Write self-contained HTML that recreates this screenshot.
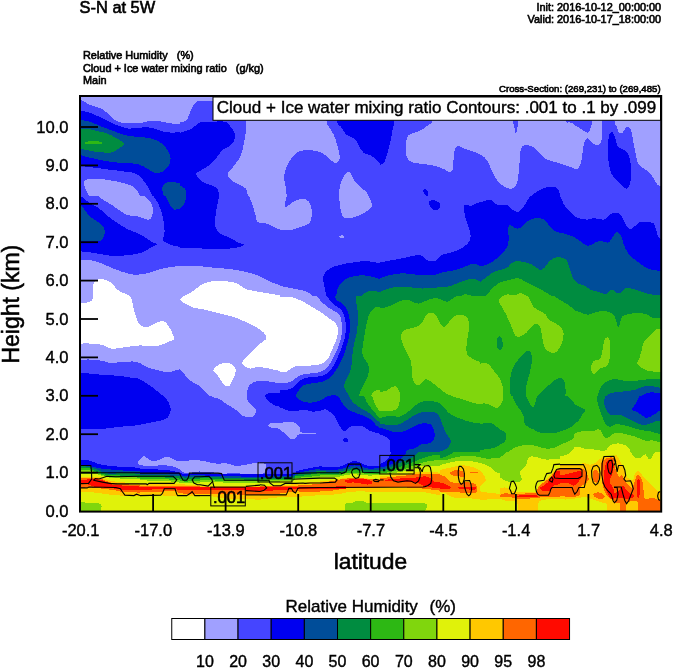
<!DOCTYPE html>
<html><head><meta charset="utf-8"><title>S-N at 5W</title>
<style>
html,body{margin:0;padding:0;background:#fff;}
body{width:674px;height:668px;overflow:hidden;}
svg{display:block;}
text{font-family:"Liberation Sans",sans-serif;fill:#000;stroke:#000;stroke-width:0.4px;white-space:pre;}
.sm text{stroke-width:0.6px;}
</style></head><body>
<svg width="674" height="668" viewBox="0 0 674 668">
<rect x="0" y="0" width="674" height="668" fill="#fff"/>
<text x="79.6" y="12.5" font-size="16.4" style="stroke-width:0.6px">S-N at 5W</text>
<g class="sm">
<text x="661.2" y="11" font-size="10.9" text-anchor="end">Init: 2016-10-12_00:00:00</text>
<text x="661.2" y="22.8" font-size="10.9" text-anchor="end">Valid: 2016-10-17_18:00:00</text>
<text x="83" y="59.4" font-size="10.9" xml:space="preserve">Relative Humidity   (%)</text>
<text x="83" y="71.6" font-size="10.9" xml:space="preserve">Cloud + Ice water mixing ratio   (g/kg)</text>
<text x="83" y="83.6" font-size="10.9">Main</text>
<text x="660.6" y="91.6" font-size="9.65" text-anchor="end">Cross-Section: (269,231) to (269,485)</text>
</g>
<g id="field" shape-rendering="crispEdges">
<rect x="80" y="96" width="581" height="416" fill="#4545ff"/>
<defs><clipPath id="c0"><rect x="80" y="96" width="100" height="100"/></clipPath><clipPath id="c1"><rect x="180" y="96" width="100" height="100"/></clipPath><clipPath id="c2"><rect x="280" y="96" width="100" height="100"/></clipPath><clipPath id="c3"><rect x="380" y="96" width="100" height="100"/></clipPath><clipPath id="c4"><rect x="480" y="96" width="100" height="100"/></clipPath><clipPath id="c5"><rect x="574" y="96" width="87" height="100"/></clipPath><clipPath id="c6"><rect x="80" y="196" width="100" height="100"/></clipPath><clipPath id="c7"><rect x="180" y="196" width="100" height="100"/></clipPath><clipPath id="c8"><rect x="280" y="196" width="100" height="100"/></clipPath><clipPath id="c9"><rect x="380" y="196" width="100" height="100"/></clipPath><clipPath id="c10"><rect x="480" y="196" width="100" height="100"/></clipPath><clipPath id="c11"><rect x="574" y="196" width="87" height="100"/></clipPath><clipPath id="c12"><rect x="80" y="296" width="100" height="100"/></clipPath><clipPath id="c13"><rect x="180" y="296" width="100" height="100"/></clipPath><clipPath id="c14"><rect x="280" y="296" width="100" height="100"/></clipPath><clipPath id="c15"><rect x="380" y="296" width="100" height="100"/></clipPath><clipPath id="c16"><rect x="480" y="296" width="100" height="100"/></clipPath><clipPath id="c17"><rect x="574" y="296" width="87" height="100"/></clipPath><clipPath id="c18"><rect x="80" y="396" width="100" height="60"/></clipPath><clipPath id="c19"><rect x="180" y="396" width="100" height="60"/></clipPath><clipPath id="c20"><rect x="280" y="396" width="100" height="60"/></clipPath><clipPath id="c21"><rect x="380" y="396" width="100" height="60"/></clipPath><clipPath id="c22"><rect x="480" y="396" width="100" height="60"/></clipPath><clipPath id="c23"><rect x="574" y="396" width="87" height="60"/></clipPath><clipPath id="c24"><rect x="80" y="452" width="60" height="60"/></clipPath><clipPath id="c25"><rect x="140" y="452" width="60" height="60"/></clipPath><clipPath id="c26"><rect x="200" y="452" width="60" height="60"/></clipPath><clipPath id="c27"><rect x="260" y="452" width="60" height="60"/></clipPath><clipPath id="c28"><rect x="320" y="452" width="60" height="60"/></clipPath><clipPath id="c29"><rect x="380" y="452" width="60" height="60"/></clipPath><clipPath id="c30"><rect x="440" y="452" width="60" height="60"/></clipPath><clipPath id="c31"><rect x="500" y="452" width="60" height="60"/></clipPath><clipPath id="c32"><rect x="560" y="452" width="60" height="60"/></clipPath><clipPath id="c33"><rect x="614" y="452" width="47" height="60"/></clipPath></defs>
<g clip-path="url(#c0)">
<rect x="80" y="96" width="100" height="100" fill="#a0a0ff"/>
<path fill="#4545ff" d="M80.0,99.7C81.0,100.2 84.0,101.7 86.0,102.7C88.0,103.7 89.7,104.9 92.0,105.7C94.2,106.6 97.3,107.1 99.5,108.0C101.6,108.8 103.0,109.7 104.7,111.0C106.4,112.2 108.3,114.0 109.9,115.5C111.6,116.9 112.9,118.6 114.4,119.7C115.9,120.7 117.2,121.1 118.9,121.7C120.7,122.3 121.4,123.0 124.9,123.2C128.4,123.4 136.4,123.2 139.9,122.9C143.4,122.7 143.4,122.1 145.9,121.7C148.4,121.4 152.4,120.8 154.9,120.7C157.3,120.7 158.3,121.0 160.8,121.4C163.3,121.9 166.6,122.8 169.8,123.2C173.0,123.7 178.3,124.0 180.0,124.1L180.0,196.0L80.0,196.0L80.0,99.7Z"/>
<path fill="#0000f0" d="M80.0,110.2C81.5,110.6 86.0,111.5 89.0,112.5C92.0,113.5 95.0,114.8 98.0,116.2C101.0,117.6 104.0,119.3 106.9,120.7C109.9,122.1 112.9,123.6 115.9,124.7C118.9,125.9 122.7,127.1 124.9,127.7C127.2,128.4 126.9,128.6 129.4,128.6C131.9,128.6 136.9,128.0 139.9,127.7C142.9,127.5 144.9,126.9 147.4,127.1C149.9,127.3 152.1,128.2 154.9,128.9C157.6,129.7 160.8,131.0 163.8,131.6C166.8,132.3 170.1,132.6 172.8,132.7C175.5,132.7 178.8,132.1 180.0,131.9L180.0,196.0L152.6,196.0C152.2,195.3 151.2,193.5 150.4,191.8C149.5,190.1 148.6,187.8 147.4,185.8C146.1,183.8 144.4,181.6 142.9,179.8C141.4,178.1 140.1,176.5 138.4,175.3C136.6,174.1 134.6,173.3 132.4,172.6C130.1,172.0 128.7,172.1 124.9,171.6C121.2,171.1 114.4,170.2 109.9,169.7C105.4,169.1 101.5,168.6 98.0,168.2C94.5,167.7 92.0,167.5 89.0,167.1C86.0,166.7 81.5,165.9 80.0,165.6L80.0,110.2Z"/>
<path fill="#004d99" d="M80.0,120.0C81.2,120.2 85.0,120.5 87.5,121.1C90.0,121.8 93.0,122.9 95.0,123.7C97.0,124.5 97.0,124.9 99.5,125.9C102.0,126.9 106.2,128.3 109.9,129.7C113.7,131.1 118.2,133.1 121.9,134.2C125.7,135.3 128.9,135.9 132.4,136.4C135.9,136.9 139.6,136.8 142.9,137.2C146.1,137.5 149.1,137.9 151.9,138.7C154.6,139.4 157.3,140.5 159.3,141.7C161.3,142.8 162.3,143.8 163.8,145.4C165.3,147.0 167.2,149.3 168.3,151.4C169.4,153.5 170.4,155.9 170.6,158.1C170.7,160.4 170.2,162.7 169.1,164.9C167.9,167.0 165.7,169.5 163.8,170.9C162.0,172.2 159.6,172.8 157.8,173.1C156.1,173.3 155.1,173.1 153.4,172.3C151.6,171.6 149.6,169.9 147.4,168.6C145.1,167.4 142.4,165.7 139.9,164.9C137.4,164.0 136.1,163.7 132.4,163.4C128.7,163.0 122.4,163.1 117.4,162.6C112.4,162.1 107.2,161.2 102.5,160.4C97.7,159.5 92.7,158.3 89.0,157.4C85.2,156.5 81.5,155.5 80.0,155.1L80.0,120.0Z"/>
<path fill="#008c40" d="M80.0,128.6C81.5,128.7 86.0,128.8 89.0,129.2C92.0,129.7 95.0,130.5 98.0,131.2C101.0,131.9 104.0,132.3 106.9,133.4C109.9,134.5 113.1,136.2 115.9,137.9C118.7,139.6 123.4,141.7 123.9,143.5C124.4,145.2 120.5,147.1 118.9,148.4C117.4,149.7 115.9,150.7 114.4,151.4C112.9,152.1 112.7,152.5 109.9,152.6C107.2,152.7 101.5,152.5 98.0,152.1C94.5,151.8 92.0,151.2 89.0,150.6C86.0,150.1 81.5,149.0 80.0,148.7L80.0,128.6Z"/>
<path fill="#2db814" d="M85.2,142.4C85.7,142.0 87.4,141.5 89.0,141.2C90.6,141.0 92.8,140.8 95.0,140.9C97.1,141.1 100.5,141.7 101.7,142.1C102.9,142.6 103.3,143.3 102.2,143.6C101.0,143.9 97.7,143.9 95.0,143.9C92.3,144.0 87.6,144.2 86.0,143.9C84.4,143.7 84.7,142.9 85.2,142.4Z"/>
<path fill="#a0a0ff" d="M139.9,196.0L89.0,196.0C88.6,195.3 87.5,193.5 86.7,191.8C86.0,190.1 84.9,187.4 84.5,185.8C84.1,184.2 83.9,183.1 84.2,182.1C84.4,181.1 84.7,180.4 86.0,179.8C87.3,179.3 89.2,178.8 92.0,178.6C94.7,178.5 98.2,178.6 102.5,179.1C106.7,179.6 113.2,180.8 117.4,181.6C121.7,182.5 125.2,183.4 127.9,184.3C130.6,185.3 132.3,186.2 133.9,187.3C135.5,188.4 136.6,189.6 137.6,191.1C138.6,192.5 139.5,195.2 139.9,196.0Z"/>
<path fill="#004d99" d="M180.0,183.6L180.0,196.0L163.8,196.0C163.6,194.8 162.3,190.8 162.3,188.8C162.3,186.9 162.8,185.4 163.8,184.3C164.8,183.2 166.3,182.4 168.3,182.1C170.3,181.8 173.9,182.3 175.8,182.5C177.8,182.8 179.3,183.4 180.0,183.6Z"/>
</g>
<g clip-path="url(#c1)">
<rect x="180" y="96" width="100" height="100" fill="#a0a0ff"/>
<path fill="#4545ff" d="M180.0,122.2C181.0,121.9 184.6,121.6 186.0,120.7C187.4,119.8 187.5,118.6 188.2,117.0C189.0,115.3 189.6,113.0 190.5,111.0C191.4,109.0 192.5,106.5 193.5,105.0C194.5,103.5 195.5,102.7 196.5,102.0C197.5,101.3 196.7,101.1 199.5,100.9C202.3,100.8 205.5,100.9 213.2,100.9C221.0,100.9 240.4,97.6 245.9,100.9C251.3,104.2 245.9,115.3 245.9,120.7C245.8,126.1 245.8,130.1 245.6,133.4C245.3,136.8 244.8,138.4 244.4,140.9C243.9,143.4 243.5,145.9 242.9,148.4C242.3,150.9 241.6,153.6 240.6,155.9C239.6,158.1 238.3,159.9 236.9,161.9C235.5,163.9 233.9,165.9 232.4,167.9C230.8,169.9 228.1,172.1 227.6,173.8C227.1,175.6 228.1,176.8 229.4,178.3C230.7,179.8 233.4,181.6 235.4,182.8C237.4,184.1 239.6,184.8 241.4,185.8C243.1,186.8 244.7,187.1 245.9,188.8C247.0,190.5 247.7,194.8 248.1,196.0L180.0,196.0L180.0,122.2Z"/>
<path fill="#0000f0" d="M180.0,132.7C181.2,132.3 185.2,131.3 187.5,130.4C189.7,129.6 191.5,128.7 193.5,127.4C195.5,126.1 196.7,123.6 199.5,122.6C202.2,121.7 205.7,121.9 209.9,121.7C214.2,121.6 221.7,121.2 224.9,121.7C228.2,122.3 228.0,123.7 229.4,125.2C230.8,126.6 232.2,128.6 233.1,130.4C234.1,132.3 235.1,134.4 235.1,136.4C235.1,138.4 234.1,140.8 233.1,142.4C232.2,144.0 231.0,145.0 229.4,146.1C227.8,147.3 225.2,147.8 223.4,149.1C221.7,150.5 220.4,152.5 218.9,154.4C217.4,156.3 215.9,158.6 214.4,160.4C212.9,162.1 211.9,163.4 209.9,164.9C207.9,166.4 204.8,167.9 202.5,169.4C200.2,170.9 196.8,172.3 196.2,173.8C195.5,175.3 197.4,176.8 198.7,178.3C200.0,179.8 201.6,181.6 204.0,182.8C206.3,184.1 210.7,184.8 212.9,185.8C215.2,186.8 216.4,187.1 217.4,188.8C218.5,190.5 218.9,194.8 219.2,196.0L180.0,196.0L180.0,132.7Z"/>
<path fill="#004d99" d="M180.0,185.8C180.7,186.2 183.5,187.1 184.5,188.1C185.5,189.1 185.8,190.5 186.0,191.8C186.2,193.1 185.7,195.3 185.7,196.0L180.0,196.0L180.0,185.8Z"/>
</g>
<g clip-path="url(#c2)">
<rect x="280" y="96" width="100" height="100" fill="#4545ff"/>
<path fill="#a0a0ff" d="M280.0,96.0L326.4,96.0C326.4,100.1 325.9,115.5 326.4,120.7C326.9,125.9 328.2,125.1 329.4,127.4C330.6,129.8 332.6,132.2 333.9,134.9C335.1,137.7 336.0,140.9 336.9,143.9C337.8,146.9 338.7,150.4 339.1,152.9C339.6,155.4 340.0,157.3 339.6,158.9C339.2,160.5 338.0,162.1 336.9,162.6C335.8,163.1 334.6,162.7 333.1,161.9C331.6,161.0 329.8,158.9 327.9,157.4C326.0,155.9 324.7,154.1 321.9,152.9C319.2,151.7 315.2,150.5 311.4,150.2C307.7,149.9 302.3,150.3 299.5,151.1C296.6,151.9 296.0,153.3 294.2,155.1C292.5,156.9 290.5,159.2 289.0,161.9C287.5,164.5 286.0,168.1 285.2,170.9C284.4,173.6 284.1,175.3 284.2,178.3C284.3,181.3 285.6,185.9 286.0,188.8C286.4,191.8 286.6,194.8 286.7,196.0L280.0,196.0L280.0,96.0Z"/>
<path fill="#a0a0ff" d="M339.1,196.0C339.3,194.3 339.3,188.8 339.9,185.8C340.5,182.9 341.9,180.5 342.9,178.3C343.9,176.2 344.9,174.1 345.9,173.1C346.9,172.0 347.9,171.7 348.9,172.0C349.9,172.4 350.9,173.8 351.9,175.3C352.9,176.9 353.4,179.3 354.9,181.3C356.3,183.3 359.0,185.6 360.8,187.3C362.7,189.1 364.8,190.4 366.1,191.8C367.3,193.3 367.9,195.3 368.3,196.0L339.1,196.0Z"/>
<path fill="#0000f0" d="M336.9,96.0L380.0,96.0L380.0,163.4C379.3,162.6 377.5,160.2 375.8,158.9C374.1,157.5 371.8,156.1 369.8,155.1C367.8,154.1 365.6,154.3 363.8,152.9C362.1,151.5 360.6,148.9 359.3,146.9C358.1,144.9 357.6,142.5 356.3,140.9C355.1,139.3 353.6,138.3 351.9,137.2C350.1,136.0 347.6,135.8 345.9,134.2C344.1,132.6 342.9,129.7 341.4,127.4C339.9,125.2 337.6,125.9 336.9,120.7C336.1,115.5 336.9,100.1 336.9,96.0Z"/>
</g>
<g clip-path="url(#c3)">
<rect x="380" y="96" width="100" height="100" fill="#4545ff"/>
<path fill="#0000f0" d="M380.0,96.0L394.2,96.0C394.2,100.1 394.5,115.2 394.2,120.7C394.0,126.2 393.3,125.6 392.7,128.9C392.1,132.3 391.4,136.9 390.5,140.9C389.6,144.9 388.5,149.4 387.5,152.9C386.5,156.4 385.7,159.8 384.5,161.9C383.2,163.9 380.7,164.6 380.0,165.2L380.0,96.0Z"/>
<path fill="#a0a0ff" d="M432.4,96.0L480.0,96.0L480.0,154.4C478.8,153.9 475.3,152.3 472.8,151.4C470.4,150.5 467.6,150.0 465.3,149.1C463.1,148.3 461.0,146.4 459.3,146.1C457.7,145.9 456.5,146.5 455.6,147.6C454.7,148.8 454.5,150.5 454.1,152.9C453.7,155.3 453.6,159.1 453.4,161.9C453.1,164.6 453.2,167.6 452.6,169.4C452.0,171.1 451.0,172.3 449.6,172.3C448.2,172.3 446.7,170.4 444.4,169.4C442.0,168.3 438.6,166.9 435.4,166.1C432.1,165.2 428.7,164.7 424.9,164.1C421.2,163.5 415.8,163.5 412.9,162.6C410.1,161.7 408.9,160.7 407.7,158.9C406.5,157.0 406.0,154.4 405.7,151.4C405.5,148.4 405.7,143.6 406.2,140.9C406.6,138.2 407.1,136.6 408.4,135.2C409.8,133.8 412.2,133.6 414.4,132.7C416.7,131.8 419.7,130.9 421.9,129.7C424.2,128.4 426.2,126.7 427.9,125.2C429.7,123.7 431.6,125.6 432.4,120.7C433.1,115.8 432.4,100.1 432.4,96.0Z"/>
<path fill="#0000f0" d="M427.6,196.0C427.2,195.8 425.7,195.8 424.9,194.8C424.2,193.9 423.0,191.3 423.1,190.3C423.2,189.3 424.9,188.6 425.7,188.8C426.5,189.1 427.6,190.6 427.9,191.8C428.2,193.0 427.7,195.3 427.6,196.0Z"/>
</g>
<g clip-path="url(#c4)">
<rect x="480" y="96" width="100" height="100" fill="#a0a0ff"/>
<path fill="#4545ff" d="M480.0,154.7C480.7,155.1 483.1,156.1 484.5,157.4C485.9,158.7 487.1,160.6 488.2,162.6C489.4,164.6 490.1,167.0 491.2,169.4C492.4,171.7 493.6,174.6 495.0,176.8C496.3,179.1 497.7,181.1 499.5,182.8C501.2,184.6 503.5,186.3 505.4,187.3C507.4,188.3 509.7,189.1 511.4,188.8C513.2,188.6 514.9,187.3 515.9,185.8C517.0,184.3 517.2,182.3 517.7,179.8C518.2,177.3 518.6,174.1 518.9,170.9C519.2,167.6 519.4,163.6 519.7,160.4C519.9,157.1 519.9,153.8 520.4,151.4C520.9,149.0 521.4,147.2 522.7,146.1C523.9,145.1 526.0,144.9 527.9,145.1C529.8,145.4 531.9,146.3 533.9,147.6C535.9,148.9 537.9,151.0 539.9,152.9C541.9,154.8 543.4,157.4 545.9,158.9C548.4,160.4 551.9,160.9 554.9,161.9C557.8,162.9 560.8,163.9 563.8,164.9C566.8,165.9 570.1,167.1 572.8,167.9C575.5,168.6 578.8,169.1 580.0,169.4L580.0,196.0L480.0,196.0L480.0,154.7Z"/>
<path fill="#4545ff" d="M513.2,96.0L518.2,96.0C518.2,100.1 518.3,115.2 518.2,120.7C518.0,126.2 517.5,126.8 517.1,128.9C516.8,131.1 516.3,133.7 515.9,133.7C515.5,133.7 515.2,131.1 514.7,128.9C514.3,126.8 513.5,126.2 513.2,120.7C513.0,115.2 513.2,100.1 513.2,96.0Z"/>
<path fill="#4545ff" d="M566.1,96.0L580.0,96.0L580.0,128.2C579.3,127.7 577.5,126.2 575.8,125.2C574.1,124.2 571.4,122.9 569.8,122.2C568.2,121.4 566.7,125.1 566.1,120.7C565.5,116.3 566.1,100.1 566.1,96.0Z"/>
<path fill="#0000f0" d="M530.9,196.0C531.9,195.3 534.6,193.1 536.9,191.8C539.1,190.5 541.9,188.9 544.4,188.1C546.9,187.2 549.7,186.6 551.9,186.6C554.0,186.6 555.8,187.2 557.1,188.1C558.3,188.9 558.8,190.5 559.3,191.8C559.8,193.1 560.0,195.3 560.1,196.0L530.9,196.0Z"/>
</g>
<g clip-path="url(#c5)">
<rect x="574" y="96" width="87" height="100" fill="#4545ff"/>
<path fill="#a0a0ff" d="M592.0,96.0L602.4,96.0C602.4,100.1 602.5,114.5 602.4,120.7C602.4,126.9 602.4,129.8 602.1,133.4C601.9,137.0 601.9,140.5 600.9,142.4C600.0,144.4 598.0,145.1 596.5,145.1C595.0,145.1 593.3,143.6 592.0,142.4C590.6,141.3 589.3,138.6 588.2,138.2C587.1,137.8 586.1,138.7 585.2,140.2C584.4,141.6 583.8,144.3 583.3,146.9C582.8,149.5 582.7,153.1 582.2,155.9C581.8,158.6 581.5,161.2 580.7,163.4C580.0,165.5 578.9,167.7 577.7,168.6C576.6,169.6 574.6,169.0 574.0,169.1L574.0,125.2C575.0,125.7 577.7,126.9 580.0,128.2C582.2,129.4 585.7,132.7 587.5,132.7C589.2,132.7 589.7,130.2 590.5,128.2C591.2,126.2 591.7,126.1 592.0,120.7C592.2,115.3 592.0,100.1 592.0,96.0Z"/>
<path fill="#a0a0ff" d="M614.4,96.0L674.0,96.0L674.0,185.8C671.7,185.8 663.1,186.4 660.1,185.8C657.0,185.2 657.0,183.8 655.6,182.1C654.2,180.3 653.2,177.2 651.8,175.3C650.5,173.5 649.1,172.2 647.4,170.9C645.6,169.5 643.0,168.6 641.4,167.1C639.7,165.6 638.6,164.2 637.6,161.9C636.6,159.5 636.1,156.4 635.4,152.9C634.6,149.4 633.9,144.8 633.1,140.9C632.4,137.0 632.0,131.9 630.9,129.7C629.8,127.4 627.9,126.8 626.4,127.4C624.9,128.1 623.3,132.8 621.9,133.4C620.5,134.0 619.0,132.4 618.2,131.2C617.3,129.9 617.3,127.7 616.7,125.9C616.0,124.2 614.8,125.7 614.4,120.7C614.0,115.7 614.4,100.1 614.4,96.0Z"/>
<path fill="#0000f0" d="M609.9,133.4C610.6,132.6 612.0,131.9 612.9,132.7C613.8,133.4 614.4,135.8 615.2,137.9C615.9,140.0 616.3,143.5 617.4,145.4C618.5,147.3 620.4,148.1 621.9,149.1C623.4,150.1 625.1,150.0 626.4,151.4C627.6,152.8 628.6,154.9 629.4,157.4C630.1,159.9 630.6,163.4 630.9,166.4C631.2,169.4 631.4,172.1 631.2,175.3C630.9,178.6 630.2,183.6 629.4,185.8C628.6,188.1 627.6,188.8 626.4,188.8C625.1,188.8 623.5,187.3 621.9,185.8C620.3,184.3 618.4,181.8 616.7,179.8C614.9,177.8 612.7,176.3 611.4,173.8C610.2,171.3 609.7,167.9 609.2,164.9C608.6,161.9 608.3,159.1 608.1,155.9C608.0,152.6 608.0,148.4 608.1,145.4C608.2,142.4 608.4,139.9 608.7,137.9C609.0,135.9 609.2,134.3 609.9,133.4Z"/>
</g>
<g clip-path="url(#c6)">
<rect x="80" y="196" width="100" height="100" fill="#4545ff"/>
<path fill="#a0a0ff" d="M98.0,196.0L144.4,196.0C145.4,197.0 148.9,199.7 150.4,202.0C151.8,204.2 152.8,207.1 153.1,209.5C153.3,211.8 152.6,214.5 151.9,216.2C151.2,218.0 150.1,219.6 148.9,220.0C147.6,220.3 146.4,219.1 144.4,218.5C142.4,217.8 139.6,216.8 136.9,216.2C134.1,215.7 130.6,216.0 127.9,215.2C125.2,214.3 122.9,212.5 120.4,211.0C117.9,209.4 115.4,207.4 112.9,205.7C110.4,204.1 107.9,202.9 105.4,201.2C103.0,199.6 99.2,196.9 98.0,196.0Z"/>
<path fill="#0000f0" d="M80.0,196.0C80.5,196.2 81.5,196.4 83.0,197.5C84.5,198.6 86.5,201.0 89.0,202.7C91.5,204.4 95.2,205.8 98.0,207.7C100.7,209.5 103.0,211.9 105.4,214.0C107.9,216.0 110.2,218.0 112.9,220.0C115.7,221.9 118.9,224.1 121.9,225.9C124.9,227.7 127.9,229.4 130.9,230.7C133.9,232.1 137.4,233.0 139.9,234.2C142.4,235.4 143.9,236.6 145.9,237.9C147.9,239.2 150.0,241.1 151.9,242.1C153.7,243.2 157.3,243.3 157.1,244.2C156.8,245.1 152.7,246.3 150.4,247.6C148.0,249.0 145.9,251.0 142.9,252.1C139.9,253.3 136.6,254.1 132.4,254.7C128.2,255.3 121.2,255.7 117.4,255.9C113.7,256.0 113.2,256.0 109.9,255.6C106.7,255.2 101.5,254.2 98.0,253.6C94.5,253.1 92.0,252.5 89.0,252.1C86.0,251.8 81.5,251.5 80.0,251.4L80.0,196.0Z"/>
<path fill="#004d99" d="M80.0,205.0C80.7,205.7 83.0,207.7 84.5,209.5C86.0,211.2 87.5,213.8 89.0,215.5C90.5,217.1 91.7,218.0 93.5,219.2C95.2,220.5 97.7,221.4 99.5,222.9C101.2,224.4 103.1,226.4 104.0,228.2C104.8,229.9 105.0,231.6 104.7,233.4C104.5,235.3 103.6,238.2 102.5,239.4C101.3,240.7 101.7,240.6 98.0,240.9C94.2,241.2 83.0,241.2 80.0,241.2L80.0,205.0Z"/>
<path fill="#0000f0" d="M153.4,196.0L180.0,196.0L180.0,246.9C178.8,246.6 175.3,246.1 172.8,245.4C170.4,244.7 167.0,243.4 165.3,242.4C163.7,241.4 163.2,241.2 163.1,239.4C163.0,237.7 164.5,234.7 164.6,231.9C164.7,229.2 164.3,226.2 163.8,222.9C163.3,219.7 162.6,215.8 161.6,212.5C160.6,209.1 159.2,205.5 157.8,202.7C156.5,200.0 154.1,197.1 153.4,196.0Z"/>
<path fill="#004d99" d="M166.1,196.0L180.0,196.0L180.0,208.7C179.1,208.8 175.9,210.0 174.3,209.5C172.7,209.0 171.7,207.2 170.6,205.7C169.4,204.2 168.3,202.1 167.6,200.5C166.8,198.9 166.3,196.7 166.1,196.0Z"/>
<path fill="#a0a0ff" d="M80.0,260.7C81.0,260.5 84.0,259.7 86.0,259.6C88.0,259.6 89.7,259.9 92.0,260.4C94.2,260.9 96.7,261.6 99.5,262.6C102.2,263.6 105.4,265.1 108.4,266.4C111.4,267.6 114.4,269.0 117.4,270.1C120.4,271.2 123.7,272.3 126.4,273.1C129.2,273.8 131.1,274.4 133.9,274.6C136.6,274.8 140.1,274.5 142.9,274.1C145.6,273.8 147.6,273.1 150.4,272.3C153.1,271.5 156.1,270.2 159.3,269.4C162.6,268.5 166.4,267.7 169.8,267.1C173.3,266.6 178.3,266.2 180.0,266.1L180.0,296.0L80.0,296.0L80.0,260.7Z"/>
<path fill="#ffffff" d="M93.2,296.0C93.2,294.3 92.9,288.3 93.2,285.8C93.5,283.4 93.9,282.5 95.0,281.3C96.0,280.2 97.7,279.3 99.5,279.1C101.2,278.8 103.5,279.2 105.4,279.8C107.4,280.5 109.7,281.5 111.4,282.8C113.2,284.2 114.4,286.6 115.9,288.1C117.4,289.6 118.7,290.8 120.4,291.8C122.2,292.8 124.9,293.4 126.4,294.1C127.9,294.8 128.9,295.7 129.4,296.0L93.2,296.0Z"/>
</g>
<g clip-path="url(#c7)">
<rect x="180" y="196" width="100" height="100" fill="#4545ff"/>
<path fill="#0000f0" d="M180.0,196.0L219.2,196.0C218.9,197.5 218.0,202.2 217.4,205.0C216.9,207.7 216.3,210.0 215.9,212.5C215.6,215.0 215.2,217.5 215.2,220.0C215.1,222.4 215.0,225.3 215.6,227.4C216.3,229.6 217.4,231.3 218.9,232.7C220.5,234.0 222.7,234.5 224.9,235.7C227.2,236.8 229.9,238.2 232.4,239.4C234.9,240.7 237.9,242.3 239.9,243.2C241.8,244.0 244.1,244.0 244.1,244.7C244.1,245.3 242.6,246.2 239.9,246.9C237.2,247.6 232.9,248.4 227.9,248.7C222.9,249.0 215.4,248.7 209.9,248.7C204.5,248.6 199.2,248.4 195.0,248.4C190.7,248.3 187.0,248.5 184.5,248.4C182.0,248.3 180.7,247.8 180.0,247.6L180.0,196.0Z"/>
<path fill="#004d99" d="M180.0,196.0L186.0,196.0C185.9,197.0 185.9,200.2 185.2,202.0C184.6,203.7 183.1,205.5 182.2,206.5C181.4,207.5 180.4,207.7 180.0,208.0L180.0,196.0Z"/>
<path fill="#a0a0ff" d="M248.9,196.0L280.0,196.0L280.0,229.7C279.1,229.3 276.5,228.4 274.3,227.4C272.1,226.4 269.6,224.6 266.8,223.7C264.1,222.8 259.7,223.6 257.8,222.2C256.0,220.8 256.3,217.8 255.6,215.5C254.9,213.1 254.1,210.3 253.4,208.0C252.6,205.6 251.9,203.2 251.1,201.2C250.4,199.2 249.2,196.9 248.9,196.0Z"/>
<path fill="#a0a0ff" d="M180.0,266.1C181.5,266.0 185.7,265.6 189.0,265.6C192.2,265.6 195.5,265.7 199.5,266.1C203.5,266.4 208.7,267.1 212.9,267.6C217.2,268.0 220.9,268.2 224.9,268.6C228.9,269.0 233.1,269.5 236.9,270.1C240.6,270.7 243.9,271.5 247.4,272.3C250.9,273.2 254.9,274.2 257.8,275.3C260.8,276.5 262.8,277.8 265.3,279.1C267.8,280.3 270.4,281.8 272.8,282.8C275.3,283.8 278.8,284.7 280.0,285.1L280.0,296.0L180.0,296.0L180.0,266.1Z"/>
<path fill="#ffffff" d="M184.5,296.0C185.7,295.3 189.7,293.3 192.0,291.8C194.2,290.4 196.2,288.6 198.0,287.3C199.7,286.1 200.7,285.2 202.5,284.3C204.2,283.5 206.2,282.6 208.4,282.1C210.7,281.5 213.2,281.2 215.9,281.0C218.7,280.9 222.2,281.2 224.9,281.3C227.7,281.5 230.1,281.6 232.4,282.1C234.6,282.6 236.6,283.5 238.4,284.3C240.1,285.2 241.4,286.4 242.9,287.3C244.4,288.2 245.4,288.9 247.4,289.6C249.4,290.2 252.1,290.6 254.9,291.1C257.6,291.6 260.8,292.1 263.8,292.6C266.8,293.1 270.1,293.6 272.8,294.1C275.5,294.6 278.8,295.3 280.0,295.6L280.0,296.0L184.5,296.0Z"/>
</g>
<g clip-path="url(#c8)">
<rect x="280" y="196" width="100" height="100" fill="#4545ff"/>
<path fill="#a0a0ff" d="M280.0,196.0L286.7,196.0C286.4,197.6 284.5,203.9 284.5,205.7C284.5,207.5 285.5,207.3 286.7,206.8C288.0,206.3 290.1,203.9 292.0,202.7C293.8,201.6 296.0,200.4 298.0,199.7C300.0,199.1 302.2,198.7 304.0,199.0C305.7,199.2 307.2,200.0 308.4,201.2C309.6,202.5 310.6,204.4 311.1,206.5C311.7,208.6 311.8,211.6 311.7,214.0C311.7,216.3 311.4,219.0 310.7,220.7C310.0,222.4 309.3,223.4 307.7,224.4C306.1,225.4 303.6,225.8 301.0,226.7C298.3,227.6 294.7,229.1 292.0,229.7C289.2,230.3 286.5,230.1 284.5,230.1C282.5,230.1 280.7,229.8 280.0,229.7L280.0,196.0Z"/>
<path fill="#a0a0ff" d="M339.1,196.0L368.3,196.0C368.8,197.0 370.7,200.2 371.3,202.0C371.9,203.7 372.6,205.1 372.1,206.5C371.6,207.9 370.2,208.8 368.3,210.2C366.5,211.6 363.6,213.5 360.8,214.7C358.1,216.0 354.6,217.2 351.9,217.7C349.1,218.2 346.1,218.6 344.4,217.7C342.6,216.8 342.1,214.6 341.4,212.5C340.6,210.3 340.3,207.7 339.9,205.0C339.5,202.2 339.3,197.5 339.1,196.0Z"/>
<path fill="#a0a0ff" d="M339.9,235.7C340.6,235.3 343.4,235.3 344.1,235.7C344.8,236.0 344.8,237.5 344.1,237.9C343.4,238.3 340.6,238.3 339.9,237.9C339.2,237.5 339.2,236.0 339.9,235.7Z"/>
<path fill="#0000f0" d="M326.4,296.0C326.0,294.3 324.7,288.8 324.2,285.8C323.6,282.9 323.0,280.5 323.1,278.3C323.2,276.2 323.6,274.8 324.9,273.1C326.2,271.3 328.4,269.2 330.9,267.9C333.4,266.5 336.4,265.7 339.9,264.9C343.4,264.0 347.9,263.2 351.9,262.6C355.8,262.0 360.3,261.2 363.8,261.1C367.3,261.0 370.1,261.5 372.8,261.9C375.5,262.2 378.8,263.1 380.0,263.4L380.0,296.0L326.4,296.0Z"/>
<path fill="#004d99" d="M336.1,296.0C336.4,294.8 336.8,291.0 337.6,288.8C338.5,286.6 339.8,284.6 341.4,282.8C343.0,281.1 345.1,279.5 347.4,278.3C349.6,277.2 352.1,276.6 354.9,276.1C357.6,275.6 360.8,275.2 363.8,275.3C366.8,275.5 370.1,276.2 372.8,276.8C375.5,277.5 378.8,278.7 380.0,279.1L380.0,296.0L336.1,296.0Z"/>
<path fill="#008c40" d="M361.6,296.0C362.2,295.4 363.7,293.4 365.3,292.6C367.0,291.7 368.9,291.2 371.3,291.1C373.8,290.9 378.6,291.7 380.0,291.8L380.0,296.0L361.6,296.0Z"/>
<path fill="#a0a0ff" d="M280.0,285.8C281.2,286.1 284.5,286.7 287.5,287.3C290.5,287.9 294.7,288.8 298.0,289.6C301.2,290.3 304.5,290.7 306.9,291.8C309.4,292.9 311.9,295.3 312.9,296.0L280.0,296.0L280.0,285.8Z"/>
</g>
<g clip-path="url(#c9)">
<rect x="380" y="196" width="100" height="100" fill="#4545ff"/>
<path fill="#0000f0" d="M429.1,202.0C429.4,200.9 430.5,200.4 431.6,200.2C432.8,200.0 434.8,200.2 436.1,200.8C437.5,201.3 439.0,202.4 439.6,203.5C440.2,204.6 440.2,206.2 439.9,207.2C439.6,208.3 438.8,209.4 437.6,209.8C436.5,210.1 434.4,210.0 433.1,209.5C431.9,208.9 430.8,207.7 430.1,206.5C429.5,205.2 428.9,203.0 429.1,202.0Z"/>
<path fill="#0000f0" d="M380.0,262.6C381.5,262.3 385.7,261.3 389.0,260.7C392.2,260.0 396.0,259.5 399.5,258.9C403.0,258.2 406.9,257.3 409.9,256.6C412.9,256.0 415.2,255.1 417.4,255.1C419.7,255.1 421.7,255.7 423.4,256.6C425.2,257.6 425.9,260.0 427.9,260.7C429.9,261.3 433.4,261.3 435.4,260.7C437.4,260.0 438.4,257.7 439.9,256.6C441.4,255.5 441.9,255.0 444.4,254.1C446.9,253.2 451.6,252.6 454.9,251.4C458.1,250.2 461.5,248.5 463.8,246.9C466.2,245.3 467.9,243.5 469.1,241.7C470.2,239.8 470.6,237.9 470.6,235.7C470.6,233.4 469.8,230.8 469.1,228.2C468.3,225.6 466.9,222.8 466.1,220.0C465.3,217.1 464.5,213.4 464.1,211.0C463.8,208.5 462.9,206.2 464.1,205.3C465.3,204.4 469.4,206.0 471.3,205.7C473.3,205.4 474.4,204.1 475.8,203.5C477.3,202.9 479.3,202.5 480.0,202.3L480.0,296.0L380.0,296.0L380.0,262.6Z"/>
<path fill="#004d99" d="M380.0,278.0C381.5,277.6 385.7,276.1 389.0,275.3C392.2,274.6 396.0,273.8 399.5,273.5C403.0,273.3 406.2,273.5 409.9,273.8C413.7,274.1 417.7,275.2 421.9,275.3C426.2,275.5 431.9,275.1 435.4,274.6C438.9,274.1 439.6,273.1 442.9,272.3C446.1,271.6 451.4,271.0 454.9,270.1C458.3,269.2 461.1,268.1 463.8,267.1C466.6,266.1 469.3,264.6 471.3,264.1C473.3,263.6 474.4,263.7 475.8,264.1C477.3,264.5 479.3,266.0 480.0,266.4L480.0,296.0L380.0,296.0L380.0,278.0Z"/>
<path fill="#008c40" d="M380.0,291.8C381.5,291.3 385.7,289.4 389.0,288.5C392.2,287.6 396.0,286.8 399.5,286.6C403.0,286.4 406.2,287.0 409.9,287.3C413.7,287.6 417.7,288.5 421.9,288.5C426.2,288.6 431.1,287.9 435.4,287.6C439.6,287.3 444.1,287.1 447.4,286.6C450.6,286.0 452.4,285.2 454.9,284.3C457.3,283.5 459.8,282.2 462.3,281.3C464.8,280.5 467.6,279.4 469.8,279.1C472.1,278.8 474.1,279.2 475.8,279.5C477.5,279.9 479.3,281.0 480.0,281.3L480.0,296.0L380.0,296.0L380.0,291.8Z"/>
<path fill="#2db814" d="M460.8,296.0C461.3,295.8 462.3,294.7 463.8,294.5C465.3,294.3 468.6,294.6 469.8,294.8C471.1,295.1 471.1,295.8 471.3,296.0L460.8,296.0Z"/>
</g>
<g clip-path="url(#c10)">
<rect x="480" y="196" width="100" height="100" fill="#0000f0"/>
<path fill="#4545ff" d="M480.0,196.0L530.1,196.0C529.5,197.0 527.5,200.1 526.4,202.0C525.3,203.9 524.5,205.7 523.4,207.2C522.3,208.7 520.9,210.2 519.7,211.0C518.4,211.7 517.3,212.1 515.9,211.7C514.6,211.3 512.9,209.8 511.4,208.7C509.9,207.6 508.9,205.6 506.9,205.0C505.0,204.4 501.5,205.5 499.5,205.3C497.5,205.0 496.3,204.3 495.0,203.5C493.6,202.6 492.7,200.7 491.2,200.2C489.7,199.7 487.9,200.1 486.0,200.5C484.1,200.9 481.0,202.4 480.0,202.7L480.0,196.0Z"/>
<path fill="#4545ff" d="M560.1,196.0L580.0,196.0L580.0,217.7C579.1,217.3 576.3,216.7 574.3,215.5C572.4,214.2 570.1,212.1 568.3,210.2C566.6,208.4 565.0,206.1 563.8,204.2C562.7,202.4 562.2,200.4 561.6,199.0C561.0,197.6 560.3,196.5 560.1,196.0Z"/>
<path fill="#004d99" d="M480.0,266.4C481.0,266.1 484.0,265.6 486.0,264.9C488.0,264.1 490.0,263.1 492.0,261.9C494.0,260.6 496.0,259.1 498.0,257.4C500.0,255.6 502.3,253.4 504.0,251.4C505.6,249.4 506.9,247.6 507.7,245.4C508.5,243.2 508.7,240.4 508.7,237.9C508.8,235.4 508.1,232.6 508.1,230.4C508.2,228.3 508.4,225.8 509.2,225.2C510.0,224.6 511.6,226.1 512.9,226.7C514.3,227.3 515.9,228.6 517.4,228.6C518.9,228.6 520.4,227.8 521.9,226.7C523.4,225.6 524.7,223.5 526.4,222.2C528.2,220.9 530.1,219.4 532.4,218.8C534.6,218.1 537.9,218.0 539.9,218.2C541.9,218.4 542.9,218.8 544.4,220.0C545.9,221.1 547.1,223.3 548.9,225.2C550.6,227.1 552.4,229.8 554.9,231.2C557.3,232.6 560.8,232.6 563.8,233.4C566.8,234.3 570.1,235.3 572.8,236.4C575.5,237.5 578.8,239.5 580.0,240.2L580.0,296.0L480.0,296.0L480.0,266.4Z"/>
<path fill="#008c40" d="M480.0,282.1C481.0,281.3 484.0,279.1 486.0,277.6C488.0,276.1 489.7,274.3 492.0,273.1C494.2,271.8 497.0,271.0 499.5,270.1C502.0,269.2 505.0,269.0 506.9,267.9C508.9,266.7 509.9,264.5 511.4,263.4C512.9,262.2 513.9,261.4 515.9,261.1C517.9,260.9 520.9,261.4 523.4,261.9C525.9,262.4 528.7,263.1 530.9,264.1C533.1,265.1 535.4,266.9 536.9,267.9C538.4,268.9 538.6,270.1 539.9,270.1C541.1,270.1 542.9,269.2 544.4,267.9C545.9,266.5 547.2,263.5 548.9,261.9C550.5,260.2 552.1,258.9 554.1,258.1C556.1,257.4 558.8,257.1 560.8,257.4C562.8,257.6 564.7,258.1 566.1,259.6C567.5,261.1 568.2,264.0 569.1,266.4C569.9,268.7 570.4,271.6 571.3,273.8C572.2,276.1 572.9,278.1 574.3,279.8C575.8,281.6 579.1,283.6 580.0,284.3L580.0,296.0L480.0,296.0L480.0,282.1Z"/>
<path fill="#2db814" d="M486.0,296.0C487.0,294.8 489.7,291.0 492.0,288.8C494.2,286.6 497.0,284.2 499.5,282.8C502.0,281.5 504.0,281.4 506.9,280.6C509.9,279.8 514.7,278.0 517.4,278.0C520.2,278.0 521.2,279.5 523.4,280.6C525.7,281.6 528.2,283.0 530.9,284.3C533.6,285.7 537.1,287.3 539.9,288.8C542.6,290.3 545.4,292.1 547.4,293.3C549.4,294.5 551.1,295.6 551.9,296.0L486.0,296.0Z"/>
<path fill="#80d60d" d="M502.5,296.0C503.2,295.8 504.7,294.7 506.9,294.5C509.2,294.3 513.7,295.1 515.9,294.8C518.2,294.6 519.2,293.1 520.4,293.0C521.7,292.9 522.4,293.6 523.4,294.1C524.4,294.6 525.9,295.7 526.4,296.0L502.5,296.0Z"/>
</g>
<g clip-path="url(#c11)">
<rect x="574" y="196" width="87" height="100" fill="#4545ff"/>
<path fill="#0000f0" d="M574.0,216.2C575.0,216.6 577.7,217.9 580.0,218.5C582.2,219.0 585.2,219.7 587.5,219.7C589.7,219.6 591.5,218.2 593.5,218.2C595.5,218.1 597.5,219.0 599.4,219.2C601.4,219.4 603.7,220.0 605.4,219.2C607.2,218.5 608.6,215.8 609.9,214.7C611.3,213.6 612.2,213.0 613.7,212.8C615.2,212.5 617.4,212.3 618.9,213.2C620.4,214.2 621.4,216.3 622.7,218.5C623.9,220.6 625.1,224.2 626.4,225.9C627.6,227.7 628.9,228.7 630.1,228.9C631.4,229.1 632.5,228.1 633.9,227.1C635.3,226.1 636.9,223.8 638.4,222.9C639.9,222.0 640.4,221.7 642.9,221.7C645.4,221.8 651.1,221.8 653.3,223.2C655.6,224.7 655.2,227.9 656.3,230.4C657.5,233.0 657.1,237.3 660.1,238.7C663.0,240.0 671.7,238.7 674.0,238.7L674.0,296.0L574.0,296.0L574.0,216.2Z"/>
<path fill="#004d99" d="M574.0,237.2C575.0,237.8 577.7,239.5 580.0,240.9C582.2,242.3 585.2,245.3 587.5,245.7C589.7,246.1 591.5,244.4 593.5,243.6C595.5,242.8 597.0,241.1 599.4,240.9C601.9,240.7 606.2,243.2 608.4,242.4C610.7,241.7 611.4,238.2 612.9,236.4C614.4,234.7 616.0,231.9 617.4,231.9C618.8,231.9 620.0,234.2 621.2,236.4C622.3,238.7 623.0,242.7 624.1,245.4C625.3,248.1 626.3,250.6 627.9,252.9C629.5,255.1 631.9,257.1 633.9,258.9C635.9,260.6 637.9,261.9 639.9,263.4C641.9,264.8 643.6,266.4 645.9,267.6C648.1,268.7 651.0,269.6 653.3,270.1C655.7,270.6 656.6,270.5 660.1,270.6C663.5,270.6 671.7,270.6 674.0,270.6L674.0,296.0L574.0,296.0L574.0,237.2Z"/>
<path fill="#008c40" d="M574.0,279.1C574.7,279.8 576.7,282.5 578.5,283.6C580.2,284.7 582.5,284.8 584.5,285.8C586.5,286.8 588.2,288.6 590.5,289.6C592.7,290.6 595.5,291.1 598.0,291.8C600.4,292.6 603.4,294.3 605.4,294.1C607.4,293.8 608.6,291.0 609.9,290.3C611.3,289.6 612.4,289.5 613.7,290.0C614.9,290.5 616.0,293.0 617.4,293.3C618.8,293.6 620.5,292.7 621.9,291.8C623.3,290.9 623.7,288.5 625.6,288.1C627.6,287.6 631.5,288.6 633.9,289.1C636.3,289.6 637.9,290.4 639.9,291.1C641.9,291.8 643.6,292.7 645.9,293.3C648.1,293.9 651.0,294.5 653.3,294.8C655.7,295.1 656.6,295.1 660.1,295.1C663.5,295.2 671.7,295.1 674.0,295.1L674.0,296.0L574.0,296.0L574.0,279.1Z"/>
</g>
<g clip-path="url(#c12)">
<rect x="80" y="296" width="100" height="100" fill="#a0a0ff"/>
<path fill="#ffffff" d="M80.0,303.5C81.0,303.4 84.0,303.2 86.0,302.7C88.0,302.2 90.8,301.6 92.0,300.5C93.2,299.4 93.0,296.7 93.2,296.0L130.1,296.0C130.5,297.0 131.8,299.7 132.4,302.0C133.0,304.2 133.3,307.0 133.9,309.5C134.5,312.0 135.3,314.6 136.1,317.0C137.0,319.3 138.0,322.1 139.1,323.7C140.3,325.3 141.3,326.2 142.9,326.7C144.5,327.2 146.9,327.2 148.9,326.7C150.9,326.2 152.7,324.6 154.9,323.7C157.0,322.8 159.7,321.3 161.6,321.1C163.5,321.0 164.7,321.8 166.1,322.9C167.5,324.1 168.7,326.3 169.8,328.2C170.9,330.1 172.1,332.3 172.8,334.2C173.5,336.0 174.8,338.2 174.0,339.4C173.3,340.7 170.5,340.7 168.3,341.7C166.1,342.6 163.6,344.4 160.8,345.1C158.1,345.9 155.3,346.1 151.9,346.1C148.4,346.2 143.9,345.3 139.9,345.4C135.9,345.5 131.4,346.4 127.9,346.9C124.4,347.3 121.7,347.8 118.9,348.1C116.2,348.4 113.4,348.9 111.4,348.7C109.4,348.5 108.4,347.6 106.9,346.9C105.4,346.2 104.5,345.1 102.5,344.7C100.5,344.2 97.7,344.5 95.0,344.2C92.2,344.0 88.5,343.2 86.0,343.2C83.5,343.2 81.0,344.0 80.0,344.2L80.0,303.5Z"/>
<path fill="#4545ff" d="M80.0,360.7C81.0,360.5 84.0,359.8 86.0,359.6C88.0,359.4 89.7,359.5 92.0,359.6C94.2,359.7 97.0,360.0 99.5,360.4C102.0,360.7 105.0,361.4 106.9,361.9C108.9,362.4 109.4,363.3 111.4,363.4C113.4,363.4 116.2,362.5 118.9,362.2C121.7,361.9 124.9,361.6 127.9,361.6C130.9,361.5 134.4,361.3 136.9,361.9C139.4,362.4 140.9,363.9 142.9,364.9C144.9,365.9 146.4,367.0 148.9,367.9C151.4,368.7 154.6,369.4 157.8,370.1C161.1,370.9 165.3,372.3 168.3,372.3C171.3,372.3 173.9,370.6 175.8,370.1C177.8,369.6 179.3,369.5 180.0,369.4L180.0,396.0L80.0,396.0L80.0,360.7Z"/>
<path fill="#0000f0" d="M80.0,373.1C81.5,373.2 85.7,373.3 89.0,373.5C92.2,373.8 96.0,374.3 99.5,374.6C103.0,374.9 106.2,375.1 109.9,375.3C113.7,375.6 118.4,375.7 121.9,376.1C125.4,376.5 128.2,377.2 130.9,377.6C133.6,378.0 135.9,377.8 138.4,378.6C140.9,379.5 143.4,381.3 145.9,382.8C148.4,384.4 150.9,386.2 153.4,388.1C155.8,389.9 159.1,392.7 160.8,394.1C162.6,395.4 163.3,395.7 163.8,396.0L80.0,396.0L80.0,373.1Z"/>
</g>
<g clip-path="url(#c13)">
<rect x="180" y="296" width="100" height="100" fill="#a0a0ff"/>
<path fill="#ffffff" d="M180.0,299.7L183.7,296.0L280.0,296.0L280.0,370.9C278.8,370.6 275.5,369.9 272.8,369.4C270.1,368.8 266.6,367.9 263.8,367.6C261.1,367.2 258.6,366.9 256.3,367.1C254.1,367.3 252.1,368.6 250.4,368.6C248.6,368.6 247.2,368.1 245.9,367.1C244.5,366.1 242.1,364.2 242.1,362.6C242.1,361.0 244.2,359.2 245.9,357.4C247.5,355.5 249.9,353.4 251.9,351.4C253.9,349.4 255.8,347.1 257.8,345.4C259.8,343.7 262.4,342.2 263.8,340.9C265.3,339.7 266.5,339.3 266.5,337.9C266.5,336.5 265.3,334.3 263.8,332.7C262.4,331.1 260.1,329.6 257.8,328.2C255.6,326.8 252.9,325.7 250.4,324.4C247.9,323.2 245.1,321.7 242.9,320.7C240.6,319.7 239.4,319.0 236.9,318.2C234.4,317.3 230.9,316.3 227.9,315.5C224.9,314.6 221.9,314.0 218.9,313.2C215.9,312.5 212.7,311.6 209.9,311.0C207.2,310.3 205.0,309.7 202.5,309.2C200.0,308.7 197.2,308.5 195.0,308.0C192.7,307.4 190.9,306.6 189.0,305.7C187.1,304.9 185.2,303.7 183.7,302.7C182.2,301.7 180.6,300.2 180.0,299.7Z"/>
<path fill="#ffffff" d="M213.2,370.1C213.5,368.9 216.0,366.7 217.4,365.6C218.9,364.5 220.2,363.8 221.9,363.4C223.7,362.9 226.2,362.8 227.9,363.1C229.7,363.3 231.1,363.8 232.4,364.9C233.7,365.9 235.3,367.6 235.7,369.4C236.1,371.1 235.3,373.3 234.6,375.3C234.0,377.3 232.5,379.6 231.6,381.3C230.8,383.1 230.4,385.1 229.4,385.8C228.4,386.6 226.8,386.3 225.7,385.8C224.5,385.3 223.8,384.2 222.7,382.8C221.5,381.5 220.0,379.2 218.9,377.6C217.8,376.0 216.9,374.3 215.9,373.1C215.0,371.8 213.0,371.3 213.2,370.1Z"/>
<path fill="#4545ff" d="M180.0,369.4C180.5,369.9 181.7,370.9 183.0,372.3C184.2,373.8 185.7,376.6 187.5,378.3C189.2,380.1 191.5,381.6 193.5,382.8C195.5,384.1 197.7,384.6 199.5,385.8C201.2,387.1 202.2,388.6 204.0,390.3C205.7,392.0 208.9,395.1 209.9,396.0L180.0,396.0L180.0,369.4Z"/>
<path fill="#4545ff" d="M247.4,396.0C247.4,394.8 247.2,390.8 247.7,388.8C248.2,386.9 248.9,385.6 250.4,384.3C251.8,383.1 254.1,381.9 256.3,381.3C258.6,380.8 261.1,380.9 263.8,381.0C266.6,381.2 270.1,381.7 272.8,382.1C275.5,382.5 278.8,383.3 280.0,383.6L280.0,396.0L247.4,396.0Z"/>
<path fill="#0000f0" d="M264.6,396.0C265.2,395.6 266.7,393.8 268.3,393.3C269.9,392.8 272.4,393.0 274.3,393.0C276.3,393.0 279.1,393.3 280.0,393.3L280.0,396.0L264.6,396.0Z"/>
</g>
<g clip-path="url(#c14)">
<rect x="280" y="296" width="100" height="100" fill="#a0a0ff"/>
<path fill="#ffffff" d="M280.0,297.2C281.5,297.1 286.5,296.6 289.0,296.7C291.5,296.9 292.7,297.5 295.0,298.2C297.2,299.0 300.0,300.0 302.5,301.2C305.0,302.5 307.4,304.2 309.9,305.7C312.4,307.2 315.2,308.8 317.4,310.2C319.7,311.6 321.4,312.6 323.4,314.0C325.4,315.3 327.4,317.0 329.4,318.5C331.4,320.0 333.9,321.2 335.4,322.9C336.8,324.7 337.8,326.7 338.1,328.9C338.4,331.2 337.8,333.9 337.2,336.4C336.6,338.9 335.6,341.5 334.6,343.9C333.7,346.3 332.6,348.4 331.6,350.6C330.6,352.9 329.8,355.5 328.7,357.4C327.5,359.2 326.5,360.7 324.9,361.9C323.3,363.1 321.4,363.9 318.9,364.6C316.4,365.2 313.2,365.4 309.9,365.6C306.7,365.8 302.2,365.4 299.5,365.6C296.7,365.9 295.2,366.4 293.5,367.1C291.7,367.9 290.5,369.2 289.0,370.1C287.5,371.0 286.0,372.0 284.5,372.3C283.0,372.7 280.7,372.3 280.0,372.3L280.0,297.2Z"/>
<path fill="#4545ff" d="M316.7,296.0C317.5,297.0 320.0,300.1 321.9,302.0C323.8,303.9 325.7,305.6 327.9,307.2C330.1,308.8 333.4,310.3 335.4,311.7C337.4,313.1 338.8,313.6 339.9,315.5C340.9,317.3 341.3,320.5 341.7,322.9C342.1,325.4 342.3,327.7 342.1,330.4C342.0,333.2 341.4,336.4 340.6,339.4C339.9,342.4 338.8,345.7 337.6,348.4C336.5,351.1 335.1,353.4 333.9,355.9C332.6,358.4 331.6,361.1 330.1,363.4C328.7,365.6 326.8,367.9 324.9,369.4C323.0,370.9 321.4,371.6 318.9,372.3C316.4,373.0 312.7,373.2 309.9,373.5C307.2,373.9 304.7,373.9 302.5,374.6C300.2,375.3 298.2,376.5 296.5,377.6C294.7,378.7 293.7,380.5 292.0,381.3C290.2,382.2 288.0,382.5 286.0,382.8C284.0,383.1 281.0,383.1 280.0,383.1L280.0,396.0L380.0,396.0L380.0,296.0L316.7,296.0Z"/>
<path fill="#0000f0" d="M327.2,296.0C327.8,297.0 329.3,300.2 330.9,302.0C332.5,303.7 335.1,305.1 336.9,306.5C338.6,307.9 340.2,308.7 341.4,310.2C342.6,311.7 343.4,313.3 344.1,315.5C344.8,317.6 345.3,320.5 345.6,322.9C345.9,325.4 346.1,327.7 345.9,330.4C345.7,333.2 345.1,336.4 344.4,339.4C343.6,342.4 342.5,345.4 341.4,348.4C340.3,351.4 338.9,354.6 337.6,357.4C336.4,360.1 335.3,362.5 333.9,364.9C332.5,367.2 331.1,369.9 329.4,371.6C327.7,373.3 325.7,374.5 323.4,375.3C321.2,376.2 318.7,376.5 315.9,376.8C313.2,377.2 309.4,377.1 306.9,377.6C304.5,378.1 302.7,378.7 301.0,379.8C299.2,381.0 298.0,383.0 296.5,384.3C295.0,385.7 293.5,387.2 292.0,388.1C290.5,388.9 289.5,389.2 287.5,389.6C285.5,389.9 281.2,389.9 280.0,390.0L280.0,396.0L380.0,396.0L380.0,296.0L327.2,296.0Z"/>
<path fill="#004d99" d="M335.4,296.0C335.5,296.6 335.4,298.7 336.1,299.7C336.9,300.7 338.5,301.0 339.9,302.0C341.3,303.0 343.1,304.2 344.4,305.7C345.6,307.2 346.6,309.1 347.4,311.0C348.2,312.8 348.7,314.7 349.2,317.0C349.6,319.2 350.0,321.9 350.1,324.4C350.1,326.9 349.9,329.2 349.6,331.9C349.3,334.7 348.7,338.2 348.1,340.9C347.5,343.7 346.7,345.7 345.9,348.4C345.0,351.1 344.0,354.6 342.9,357.4C341.8,360.1 340.5,362.4 339.1,364.9C337.8,367.4 336.3,370.1 334.6,372.3C333.0,374.6 331.3,376.8 329.4,378.3C327.5,379.8 325.7,380.6 323.4,381.3C321.2,382.1 318.4,382.4 315.9,382.8C313.4,383.3 310.7,383.5 308.4,384.0C306.2,384.5 304.1,384.8 302.5,385.8C300.8,386.9 299.8,388.6 298.7,390.3C297.6,392.0 296.2,395.1 295.7,396.0L380.0,396.0L380.0,296.0L335.4,296.0Z"/>
<path fill="#008c40" d="M356.3,296.0C356.2,296.7 355.5,298.7 355.6,300.5C355.7,302.2 356.7,304.0 357.1,306.5C357.5,309.0 357.8,312.2 357.8,315.5C357.9,318.7 357.8,322.7 357.5,325.9C357.3,329.2 356.9,331.9 356.3,334.9C355.8,337.9 354.7,340.9 354.1,343.9C353.5,346.9 353.0,349.9 352.6,352.9C352.2,355.9 352.2,358.9 351.9,361.9C351.5,364.9 351.1,368.2 350.4,370.9C349.6,373.5 348.3,375.6 347.4,377.6C346.4,379.6 345.2,381.2 344.7,382.8C344.2,384.4 344.0,385.8 344.4,387.3C344.7,388.8 345.9,390.4 346.6,391.8C347.4,393.3 348.5,395.3 348.9,396.0L380.0,396.0L380.0,296.0L356.3,296.0Z"/>
<path fill="#2db814" d="M380.0,307.2C379.3,307.2 377.3,306.6 375.8,307.2C374.4,307.9 372.6,309.3 371.3,311.0C370.1,312.6 369.2,314.5 368.3,317.0C367.5,319.5 366.7,322.9 366.1,325.9C365.5,328.9 365.1,331.9 364.6,334.9C364.1,337.9 363.5,340.9 363.1,343.9C362.7,346.9 362.1,350.4 362.3,352.9C362.6,355.4 363.7,357.1 364.6,358.9C365.5,360.6 366.8,361.6 367.6,363.4C368.3,365.1 369.1,367.1 369.1,369.4C369.1,371.6 368.4,374.3 367.6,376.8C366.7,379.3 365.0,382.1 363.8,384.3C362.7,386.6 361.7,388.4 360.8,390.3C360.0,392.3 359.0,395.1 358.6,396.0L380.0,396.0L380.0,307.2Z"/>
<path fill="#80d60d" d="M371.3,396.0C371.6,395.4 371.9,393.5 372.8,392.6C373.7,391.6 375.4,390.7 376.6,390.3C377.8,389.9 379.4,390.1 380.0,390.0L380.0,396.0L371.3,396.0Z"/>
<path fill="#0000f0" d="M330.1,396.0C330.4,395.8 330.8,395.0 331.6,394.8C332.5,394.7 334.6,394.9 335.4,395.1C336.1,395.3 336.0,395.9 336.1,396.0L330.1,396.0Z"/>
</g>
<g clip-path="url(#c15)">
<rect x="380" y="296" width="100" height="100" fill="#2db814"/>
<path fill="#008c40" d="M380.0,296.0L456.3,296.0C455.6,296.5 453.4,298.0 451.9,299.0C450.4,299.9 448.9,301.4 447.4,301.7C445.9,301.9 444.6,301.1 442.9,300.5C441.1,299.9 438.9,298.5 436.9,298.2C434.9,298.0 432.9,298.5 430.9,299.0C428.9,299.5 426.9,300.5 424.9,301.2C422.9,302.0 420.7,303.2 418.9,303.5C417.2,303.7 415.9,303.2 414.4,302.7C412.9,302.2 411.9,300.9 409.9,300.5C407.9,300.1 404.7,299.8 402.5,300.2C400.2,300.6 398.5,301.8 396.5,302.7C394.5,303.7 392.5,304.9 390.5,305.7C388.5,306.6 386.2,307.3 384.5,307.7C382.7,308.1 380.7,307.9 380.0,308.0L380.0,296.0Z"/>
<path fill="#80d60d" d="M480.0,361.9L480.0,396.0L451.9,396.0C450.9,395.6 447.9,394.5 445.9,393.3C443.9,392.1 442.1,390.6 439.9,388.8C437.6,387.1 434.6,384.4 432.4,382.8C430.1,381.2 427.9,379.3 426.4,379.1C424.9,378.8 424.5,380.4 423.4,381.3C422.3,382.3 420.9,384.1 419.7,384.6C418.4,385.1 417.1,385.1 415.9,384.3C414.8,383.5 413.6,382.1 412.9,379.8C412.2,377.6 412.0,373.8 411.7,370.9C411.4,367.9 411.7,364.4 411.1,361.9C410.6,359.4 409.5,358.1 408.4,355.9C407.4,353.6 405.8,350.9 404.7,348.4C403.6,345.9 402.3,343.0 401.7,340.9C401.1,338.8 401.1,337.2 401.3,335.7C401.4,334.2 401.5,333.0 402.5,331.9C403.4,330.9 405.0,330.0 406.9,329.2C408.9,328.5 412.2,328.2 414.4,327.4C416.7,326.6 418.9,325.7 420.4,324.4C421.9,323.2 422.4,321.6 423.4,320.0C424.4,318.3 425.2,315.9 426.4,314.7C427.7,313.5 429.4,312.8 430.9,312.8C432.4,312.8 434.1,313.5 435.4,314.7C436.6,315.9 437.4,318.2 438.4,320.0C439.4,321.7 440.4,324.1 441.4,325.2C442.4,326.3 443.1,327.2 444.4,326.7C445.6,326.2 447.4,323.8 448.9,322.2C450.4,320.6 451.9,318.1 453.4,317.0C454.9,315.8 456.1,315.4 457.8,315.2C459.6,314.9 462.2,314.9 463.8,315.5C465.5,316.0 466.7,317.0 467.6,318.5C468.4,320.0 468.9,321.9 469.1,324.4C469.2,326.9 468.7,330.4 468.3,333.4C467.9,336.4 467.1,339.4 466.8,342.4C466.5,345.4 466.3,349.1 466.5,351.4C466.8,353.6 467.0,354.5 468.3,355.9C469.6,357.3 472.4,358.6 474.3,359.6C476.3,360.6 479.1,361.5 480.0,361.9Z"/>
<path fill="#80d60d" d="M380.0,391.8C381.0,391.7 384.2,391.7 386.0,391.1C387.7,390.4 389.0,388.9 390.5,388.1C392.0,387.2 393.7,386.0 395.0,386.1C396.2,386.2 397.2,387.6 398.0,388.8C398.8,390.0 399.4,392.1 399.8,393.3C400.1,394.5 400.1,395.6 400.2,396.0L380.0,396.0L380.0,391.8Z"/>
</g>
<g clip-path="url(#c16)">
<rect x="480" y="296" width="100" height="100" fill="#2db814"/>
<path fill="#008c40" d="M554.1,296.0L580.0,296.0L580.0,313.2C579.1,312.6 576.3,310.8 574.3,309.5C572.4,308.1 570.3,306.4 568.3,305.0C566.3,303.6 564.2,302.4 562.3,301.2C560.5,300.1 558.5,299.1 557.1,298.2C555.7,297.4 554.6,296.4 554.1,296.0Z"/>
<path fill="#80d60d" d="M502.5,296.0L527.9,296.0C528.4,297.0 529.9,300.1 530.9,302.0C531.9,303.9 532.4,305.7 533.9,307.2C535.4,308.7 537.9,309.7 539.9,311.0C541.9,312.2 544.4,313.2 545.9,314.7C547.4,316.2 547.4,318.6 548.9,320.0C550.4,321.3 552.9,321.7 554.9,322.9C556.8,324.2 559.4,325.8 560.8,327.4C562.3,329.1 563.2,330.4 563.5,332.7C563.8,334.9 563.3,338.3 562.6,340.9C561.9,343.5 560.6,346.4 559.3,348.4C558.0,350.4 556.5,352.3 554.9,352.9C553.2,353.5 551.2,352.9 549.6,352.1C548.0,351.4 546.2,350.3 545.1,348.4C544.0,346.5 543.5,343.7 542.9,340.9C542.3,338.2 541.9,334.4 541.4,331.9C540.8,329.4 540.5,327.3 539.6,325.9C538.7,324.6 537.5,323.6 536.1,323.7C534.8,323.8 533.3,325.2 531.6,326.7C530.0,328.2 528.3,331.1 526.4,332.7C524.5,334.3 522.2,335.8 520.4,336.4C518.7,337.0 517.2,337.1 515.9,336.1C514.7,335.1 513.9,332.6 512.9,330.4C511.9,328.2 511.1,325.6 509.9,322.9C508.8,320.3 507.4,317.2 506.2,314.7C505.0,312.2 503.7,310.3 502.5,308.0C501.2,305.6 498.7,302.5 498.7,300.5C498.7,298.5 501.8,296.7 502.5,296.0Z"/>
<path fill="#008c40" d="M497.2,338.7C497.6,336.9 498.7,336.1 499.5,336.1C500.2,336.1 501.2,337.4 501.7,338.7C502.3,340.0 502.7,342.3 502.8,343.9C502.8,345.5 502.7,347.4 502.2,348.4C501.6,349.4 500.3,350.1 499.5,349.9C498.6,349.6 497.6,348.8 497.2,346.9C496.8,345.0 496.8,340.5 497.2,338.7Z"/>
<path fill="#008c40" d="M510.7,396.0C510.6,394.3 509.9,389.3 509.9,385.8C509.9,382.4 510.1,378.6 510.7,375.3C511.3,372.1 512.3,369.1 513.7,366.4C515.1,363.6 517.2,361.1 518.9,358.9C520.7,356.6 522.7,354.2 524.2,352.9C525.7,351.6 526.8,351.1 527.9,351.1C529.0,351.1 530.2,351.6 530.9,352.9C531.6,354.2 532.1,356.4 532.1,358.9C532.1,361.4 531.5,364.9 530.9,367.9C530.3,370.9 529.4,373.8 528.7,376.8C527.9,379.8 526.9,382.6 526.4,385.8C525.9,389.0 525.8,394.3 525.7,396.0L510.7,396.0Z"/>
<path fill="#008c40" d="M537.6,396.0C538.5,395.1 541.0,392.1 542.9,390.3C544.7,388.5 547.0,386.7 548.9,385.1C550.7,383.5 552.4,381.8 554.1,380.6C555.8,379.4 557.8,378.3 559.3,378.0C560.8,377.8 562.1,378.0 563.1,379.1C564.0,380.1 564.6,382.2 565.0,384.3C565.5,386.4 565.6,389.9 565.6,391.8C565.7,393.8 565.4,395.3 565.3,396.0L537.6,396.0Z"/>
<path fill="#80d60d" d="M480.0,363.7C481.0,363.6 484.2,362.6 486.0,363.1C487.7,363.5 489.0,364.8 490.5,366.4C492.0,367.9 493.5,370.4 495.0,372.3C496.5,374.3 498.2,376.1 499.5,378.3C500.7,380.6 501.8,382.9 502.5,385.8C503.1,388.8 503.1,394.3 503.2,396.0L480.0,396.0L480.0,363.7Z"/>
</g>
<g clip-path="url(#c17)">
<rect x="574" y="296" width="87" height="100" fill="#2db814"/>
<path fill="#008c40" d="M574.0,296.0L674.0,296.0L674.0,317.0C670.6,317.1 657.8,318.1 653.3,317.7C648.9,317.3 649.3,315.5 647.4,314.7C645.4,314.0 643.6,313.5 641.4,313.2C639.1,313.0 636.4,313.0 633.9,313.2C631.4,313.5 628.4,314.1 626.4,314.7C624.4,315.3 623.0,315.3 621.9,317.0C620.8,318.6 620.3,322.6 619.7,324.4C619.0,326.2 618.7,328.0 618.2,327.7C617.7,327.5 617.3,324.9 616.7,322.9C616.0,321.0 615.5,318.0 614.4,316.2C613.3,314.5 611.9,313.3 609.9,312.5C607.9,311.6 604.9,311.0 602.4,311.0C599.9,311.0 597.5,311.8 595.0,312.5C592.5,313.1 590.0,314.8 587.5,314.7C585.0,314.7 582.2,312.9 580.0,312.2C577.7,311.4 575.0,310.5 574.0,310.2L574.0,296.0Z"/>
<path fill="#80d60d" d="M591.2,367.9C591.3,366.4 591.3,364.6 592.0,363.4C592.6,362.1 593.7,361.0 595.0,360.4C596.2,359.7 598.3,360.6 599.4,359.6C600.6,358.6 601.1,356.8 601.7,354.4C602.3,352.0 602.7,347.9 603.2,345.4C603.7,342.9 603.9,340.8 604.7,339.4C605.4,338.0 606.8,336.9 607.7,337.2C608.6,337.4 609.6,338.5 609.9,340.9C610.3,343.3 610.1,347.9 609.9,351.4C609.8,354.9 609.8,359.4 609.2,361.9C608.6,364.4 607.6,365.4 606.2,366.4C604.8,367.4 602.3,367.2 600.9,367.9C599.6,368.5 599.1,369.1 598.0,370.1C596.8,371.1 595.3,373.5 594.2,373.8C593.2,374.2 592.2,373.3 591.7,372.3C591.2,371.3 591.2,369.4 591.2,367.9Z"/>
<path fill="#80d60d" d="M674.0,328.6C671.7,328.6 663.3,328.3 660.1,328.6C656.9,328.9 656.7,329.1 654.8,330.4C653.0,331.7 650.7,334.4 648.9,336.4C647.0,338.4 644.9,339.9 643.6,342.4C642.4,344.9 642.1,348.6 641.4,351.4C640.6,354.1 639.8,356.9 639.1,358.9C638.4,360.9 636.9,362.0 637.2,363.4C637.4,364.7 639.2,366.0 640.6,367.1C642.1,368.2 643.7,369.4 645.9,370.1C648.0,370.9 651.0,371.3 653.3,371.6C655.7,371.9 656.6,372.0 660.1,372.0C663.5,372.1 671.7,372.0 674.0,372.0L674.0,328.6Z"/>
<path fill="#008c40" d="M598.0,396.0C598.2,395.1 598.7,392.1 599.4,390.3C600.2,388.5 600.9,386.7 602.4,385.1C603.9,383.5 606.2,381.6 608.4,380.6C610.7,379.6 613.4,379.1 615.9,379.1C618.4,379.1 620.4,380.3 623.4,380.6C626.4,380.9 630.6,381.2 633.9,381.0C637.1,380.9 639.9,380.2 642.9,379.8C645.9,379.5 649.0,379.1 651.8,379.1C654.7,379.0 656.4,379.5 660.1,379.5C663.8,379.6 671.7,379.5 674.0,379.5L674.0,396.0L598.0,396.0Z"/>
<path fill="#004d99" d="M606.2,396.0C607.1,395.5 609.3,393.7 611.4,393.0C613.5,392.3 616.2,392.1 618.9,391.8C621.7,391.5 625.1,391.4 627.9,391.1C630.6,390.7 633.1,390.2 635.4,389.6C637.6,388.9 639.4,387.9 641.4,387.3C643.4,386.7 645.1,385.9 647.4,385.8C649.6,385.7 652.7,386.3 654.8,386.6C657.0,386.9 656.9,387.4 660.1,387.6C663.3,387.8 671.7,387.6 674.0,387.6L674.0,396.0L606.2,396.0Z"/>
<path fill="#0000f0" d="M641.4,396.0C641.9,395.7 643.1,394.6 644.4,394.1C645.6,393.5 647.1,392.8 648.9,392.6C650.6,392.3 653.0,392.4 654.8,392.6C656.7,392.7 656.9,393.2 660.1,393.3C663.3,393.4 671.7,393.3 674.0,393.3L674.0,396.0L641.4,396.0Z"/>
</g>
<g clip-path="url(#c18)">
<rect x="80" y="396" width="100" height="60" fill="#4545ff"/>
<path fill="#0000f0" d="M80.0,396.0L163.1,396.0C163.8,396.7 166.4,398.7 167.5,400.5C168.7,402.2 169.7,404.7 170.2,406.4C170.7,408.1 170.8,409.1 170.5,410.8C170.2,412.6 169.3,415.3 168.3,416.8C167.3,418.2 166.4,418.7 164.6,419.4C162.7,420.2 160.1,420.6 157.2,421.2C154.2,421.9 150.2,422.8 146.8,423.4C143.3,424.1 140.1,424.9 136.4,425.4C132.7,425.9 128.2,426.1 124.5,426.4C120.8,426.8 117.3,427.1 114.1,427.5C110.9,427.8 108.4,428.4 105.2,428.6C102.0,428.9 99.0,428.9 94.8,428.9C90.6,429.0 82.5,428.9 80.0,428.9L80.0,396.0Z"/>
</g>
<g clip-path="url(#c19)">
<rect x="180" y="396" width="100" height="60" fill="#4545ff"/>
<path fill="#a0a0ff" d="M211.2,396.0L246.8,396.0C247.0,397.0 247.3,400.2 248.2,401.9C249.2,403.7 251.4,405.0 252.7,406.4C254.0,407.7 255.6,408.7 256.0,410.1C256.3,411.5 255.6,413.4 254.9,414.5C254.3,415.7 253.6,416.5 252.0,416.8C250.4,417.1 247.1,416.8 245.3,416.5C243.4,416.1 242.3,415.6 240.8,414.5C239.3,413.5 238.1,411.5 236.4,410.1C234.6,408.7 232.4,407.6 230.4,406.4C228.5,405.1 226.4,403.9 224.5,402.7C222.7,401.4 221.0,399.8 219.3,399.0C217.6,398.1 215.5,398.0 214.1,397.5C212.8,397.0 211.7,396.2 211.2,396.0Z"/>
<path fill="#a0a0ff" d="M280.0,423.4L280.0,429.8C279.4,429.5 277.8,428.1 276.4,427.9C275.1,427.7 273.3,428.8 272.0,428.3C270.6,427.9 268.5,426.2 268.3,425.4C268.0,424.6 269.4,423.8 270.5,423.4C271.6,423.1 273.4,423.0 275.0,423.0C276.5,423.0 279.2,423.4 280.0,423.4Z"/>
<path fill="#0000f0" d="M264.9,396.0L280.0,396.0L280.0,406.7C279.2,406.5 276.5,406.3 275.0,405.6C273.4,405.0 271.9,403.7 270.5,402.7C269.1,401.7 267.7,400.8 266.8,399.7C265.9,398.6 265.2,396.6 264.9,396.0Z"/>
</g>
<g clip-path="url(#c20)">
<rect x="280" y="396" width="100" height="60" fill="#4545ff"/>
<path fill="#0000f0" d="M280.0,396.0L380.0,396.0L380.0,433.8C379.2,433.6 376.8,432.9 375.0,432.4C373.1,431.8 371.0,431.4 369.0,430.4C367.0,429.4 365.1,427.2 363.1,426.4C361.1,425.7 359.1,426.0 357.2,426.0C355.2,426.0 352.9,425.8 351.2,426.4C349.5,427.0 348.0,428.5 346.8,429.4C345.5,430.2 344.8,431.9 343.8,431.6C342.8,431.4 341.8,429.4 340.8,427.9C339.8,426.4 338.9,424.6 337.9,422.7C336.9,420.9 336.1,418.5 334.9,416.8C333.7,415.0 332.1,413.6 330.4,412.3C328.8,411.1 327.0,409.6 325.3,409.4C323.5,409.1 322.2,410.5 320.1,410.8C318.0,411.2 315.4,411.8 312.6,411.6C309.9,411.4 306.2,409.8 303.7,409.6C301.3,409.5 300.3,410.6 297.8,410.8C295.3,411.0 291.4,411.2 288.9,410.8C286.4,410.5 284.5,409.1 283.0,408.6C281.5,408.1 280.5,408.0 280.0,407.9L280.0,396.0Z"/>
<path fill="#004d99" d="M295.6,396.0L327.5,396.0C326.7,396.5 324.8,398.0 323.0,399.0C321.3,399.9 319.3,401.0 317.1,401.6C314.9,402.3 312.1,402.8 309.7,402.7C307.2,402.6 304.2,401.9 302.3,401.2C300.3,400.5 298.9,399.5 297.8,398.7C296.7,397.8 295.9,396.4 295.6,396.0Z"/>
<path fill="#004d99" d="M337.9,396.0L380.0,396.0L380.0,427.9C379.4,427.5 377.8,426.9 376.4,425.7C375.1,424.4 373.7,422.0 372.0,420.5C370.3,419.0 368.0,417.8 366.1,416.8C364.1,415.8 362.3,415.4 360.1,414.5C357.9,413.7 354.9,412.6 352.7,411.6C350.5,410.6 348.4,409.8 346.8,408.6C345.2,407.4 344.2,405.8 343.1,404.2C341.9,402.6 341.0,400.3 340.1,399.0C339.2,397.6 338.2,396.5 337.9,396.0Z"/>
<path fill="#008c40" d="M349.0,396.0L380.0,396.0L380.0,422.7C379.4,422.2 377.8,421.0 376.4,419.7C375.1,418.5 373.7,416.8 372.0,415.3C370.3,413.8 368.0,412.1 366.1,410.8C364.1,409.6 362.1,409.1 360.1,407.9C358.1,406.6 355.7,404.8 354.2,403.4C352.7,402.1 352.1,400.9 351.2,399.7C350.4,398.5 349.4,396.6 349.0,396.0Z"/>
<path fill="#2db814" d="M363.8,396.0L380.0,396.0L380.0,418.3C379.4,417.6 377.8,416.0 376.4,414.5C375.1,413.1 373.5,411.2 372.0,409.4C370.5,407.5 368.6,405.1 367.5,403.4C366.4,401.7 365.9,400.2 365.3,399.0C364.7,397.7 364.1,396.5 363.8,396.0Z"/>
<path fill="#80d60d" d="M372.0,396.0L380.0,396.0L380.0,411.6C379.5,411.0 378.1,409.5 377.2,407.9C376.2,406.3 375.1,403.9 374.2,401.9C373.3,400.0 372.4,397.0 372.0,396.0Z"/>
<path fill="#a0a0ff" d="M280.0,423.4C280.7,423.2 282.5,422.2 284.5,422.0C286.4,421.7 289.8,421.6 291.9,422.0C294.0,422.3 295.7,423.2 297.1,424.2C298.4,425.2 299.4,426.5 300.0,427.9C300.6,429.3 298.4,431.5 300.8,432.4C303.1,433.2 311.9,432.5 314.1,432.8C316.4,433.0 316.6,433.6 314.1,433.8C311.7,434.1 302.3,433.7 299.3,434.3C296.3,434.9 297.3,436.8 296.3,437.5C295.3,438.3 294.5,438.9 293.4,439.0C292.2,439.2 290.9,439.0 289.6,438.3C288.4,437.5 287.3,435.8 285.9,434.6C284.6,433.3 282.5,431.7 281.5,430.9C280.5,430.1 280.2,430.0 280.0,429.8L280.0,423.4Z"/>
<path fill="#0000f0" d="M343.1,439.0C343.4,438.6 344.5,437.7 345.3,437.8C346.1,438.0 347.6,439.1 348.0,439.8C348.3,440.5 348.1,441.6 347.5,442.0C346.9,442.4 345.3,442.5 344.5,442.3C343.8,442.0 343.3,441.1 343.1,440.5C342.8,440.0 342.7,439.5 343.1,439.0Z"/>
</g>
<g clip-path="url(#c21)">
<rect x="380" y="396" width="100" height="60" fill="#008c40"/>
<path fill="#2db814" d="M380.0,418.3C380.7,418.0 382.5,417.1 384.5,416.8C386.4,416.4 389.4,416.0 391.9,416.0C394.3,416.0 397.1,417.1 399.3,416.8C401.5,416.4 403.2,415.0 405.2,413.8C407.2,412.6 409.2,411.0 411.2,409.4C413.1,407.7 414.9,405.5 417.1,404.2C419.3,402.8 422.0,401.7 424.5,401.2C427.0,400.7 429.5,400.9 431.9,401.2C434.4,401.5 437.4,402.1 439.3,403.1C441.3,404.1 442.3,405.6 443.8,407.1C445.3,408.7 446.5,410.8 448.2,412.3C450.0,413.8 451.7,414.8 454.2,416.0C456.7,417.3 460.1,418.7 463.1,419.7C466.1,420.8 469.2,421.8 472.0,422.4C474.8,423.0 478.7,423.3 480.0,423.4L480.0,396.0L380.0,396.0L380.0,418.3Z"/>
<path fill="#80d60d" d="M380.0,396.0L400.0,396.0C399.9,397.2 399.8,401.3 399.3,403.4C398.8,405.5 398.3,407.4 397.1,408.6C395.8,409.8 394.0,410.4 391.9,410.8C389.8,411.3 386.4,411.1 384.5,411.1C382.5,411.1 380.7,410.9 380.0,410.8L380.0,396.0Z"/>
<path fill="#80d60d" d="M452.0,396.0L480.0,396.0L480.0,404.2C478.9,404.0 475.8,403.7 473.5,403.1C471.1,402.5 468.5,401.3 466.1,400.5C463.6,399.6 461.0,399.0 458.6,398.2C456.3,397.5 453.1,396.4 452.0,396.0Z"/>
<path fill="#004d99" d="M380.0,423.4C381.2,423.7 384.7,424.7 387.4,424.9C390.1,425.2 393.8,425.3 396.3,424.9C398.8,424.6 400.0,423.8 402.3,422.7C404.5,421.6 407.2,419.7 409.7,418.3C412.1,416.8 414.9,414.8 417.1,413.8C419.3,412.8 420.8,412.4 423.0,412.0C425.3,411.7 428.2,411.4 430.4,411.6C432.7,411.8 434.8,412.1 436.4,413.1C438.0,414.1 439.1,415.7 440.1,417.5C441.1,419.4 441.4,421.8 442.3,424.2C443.2,426.5 444.2,429.4 445.3,431.6C446.4,433.8 448.1,436.1 449.0,437.5C449.9,439.0 450.8,439.3 450.9,440.5C451.0,441.7 450.4,443.6 449.7,445.0C449.0,446.3 448.5,447.6 446.8,448.7C445.0,449.8 442.3,451.0 439.3,451.6C436.4,452.3 432.2,452.6 429.0,452.7C425.7,452.8 422.3,452.1 420.1,452.4C417.8,452.7 416.5,454.0 415.6,454.6C414.7,455.2 415.0,455.7 414.9,455.9L380.0,455.9L380.0,423.4Z"/>
<path fill="#0000f0" d="M380.0,427.9C381.0,428.1 384.0,428.8 385.9,429.4C387.9,430.0 389.9,431.1 391.9,431.6C393.8,432.1 395.6,432.5 397.8,432.4C400.0,432.2 403.0,431.6 405.2,430.9C407.4,430.1 409.2,428.9 411.2,427.9C413.1,426.9 415.1,425.7 417.1,424.9C419.1,424.2 421.0,423.6 423.0,423.4C425.0,423.3 427.5,423.5 429.0,423.9C430.4,424.3 431.1,424.5 431.9,425.7C432.8,426.8 433.7,429.1 434.2,430.9C434.6,432.6 434.8,434.3 434.6,436.1C434.4,437.8 433.9,440.0 432.7,441.3C431.5,442.5 429.3,443.0 427.5,443.5C425.6,444.0 423.3,443.6 421.5,444.2C419.8,444.8 418.6,446.4 417.1,447.2C415.6,448.0 414.2,448.7 412.6,449.1C411.0,449.5 408.8,449.0 407.4,449.7C406.1,450.4 405.1,452.1 404.5,453.1C403.9,454.2 403.9,455.5 403.7,455.9L380.0,455.9L380.0,427.9Z"/>
<path fill="#4545ff" d="M380.0,435.3C380.7,435.4 383.1,435.1 384.5,435.8C385.8,436.4 387.2,438.0 388.2,439.0C389.1,440.1 389.8,439.2 390.1,442.0C390.4,444.8 390.1,453.6 390.1,455.9L380.0,455.9L380.0,435.3Z"/>
<path fill="#2db814" d="M452.7,455.9C452.9,455.5 453.2,453.8 454.2,453.1C455.2,452.5 456.7,452.2 458.6,452.1C460.6,452.0 463.3,452.2 466.1,452.4C468.8,452.6 472.6,452.9 475.0,453.1C477.3,453.4 479.2,453.7 480.0,453.9L480.0,455.9L452.7,455.9Z"/>
</g>
<g clip-path="url(#c22)">
<rect x="480" y="396" width="100" height="60" fill="#2db814"/>
<path fill="#80d60d" d="M480.0,396.0L503.0,396.0C502.9,397.0 502.9,400.2 502.3,401.9C501.6,403.7 500.4,405.4 499.3,406.4C498.2,407.4 497.1,408.1 495.6,407.9C494.1,407.6 492.2,405.6 490.4,404.9C488.5,404.2 486.2,403.5 484.5,403.4C482.7,403.3 480.7,404.0 480.0,404.2L480.0,396.0Z"/>
<path fill="#008c40" d="M512.6,396.0L526.0,396.0C526.5,397.0 527.8,400.0 529.0,401.9C530.1,403.9 531.7,407.3 532.7,407.6C533.7,407.8 534.2,405.3 534.9,403.4C535.6,401.5 536.8,397.2 537.1,396.0L567.5,396.0C568.3,396.7 570.5,399.1 572.0,400.5C573.5,401.8 575.1,403.2 576.4,404.2C577.8,405.1 579.4,406.0 580.0,406.4L580.0,418.3C579.4,419.0 577.8,421.3 576.4,422.7C575.1,424.1 573.7,425.3 572.0,426.4C570.3,427.5 568.0,428.5 566.1,429.4C564.1,430.2 562.1,431.0 560.1,431.6C558.1,432.2 556.4,432.8 554.2,433.1C552.0,433.4 549.2,433.5 546.8,433.4C544.3,433.3 541.6,433.0 539.3,432.4C537.1,431.7 535.4,430.4 533.4,429.4C531.4,428.4 529.0,427.5 527.5,426.4C525.9,425.3 524.8,424.3 524.2,422.7C523.6,421.1 524.3,418.7 523.8,416.8C523.2,414.8 521.9,412.7 520.8,410.8C519.7,409.0 518.2,407.4 517.1,405.6C516.0,403.9 514.9,402.1 514.1,400.5C513.4,398.8 512.9,396.7 512.6,396.0Z"/>
<path fill="#008c40" d="M480.0,424.2C481.0,424.0 484.0,423.1 485.9,423.0C487.9,422.9 490.1,422.9 491.9,423.4C493.6,424.0 494.8,425.3 496.3,426.4C497.8,427.5 499.3,429.1 500.8,430.1C502.3,431.1 504.3,431.1 505.2,432.4C506.2,433.6 506.5,435.9 506.4,437.5C506.3,439.2 505.4,440.9 504.5,442.0C503.5,443.1 502.1,443.4 500.8,444.2C499.4,445.1 498.1,446.4 496.3,447.2C494.6,447.9 492.4,448.3 490.4,448.7C488.4,449.0 486.2,449.2 484.5,449.4C482.7,449.7 480.7,450.0 480.0,450.2L480.0,424.2Z"/>
<path fill="#80d60d" d="M504.5,455.9C505.3,455.1 507.8,452.4 509.7,450.9C511.5,449.4 513.4,448.1 515.6,447.2C517.8,446.2 520.6,445.6 523.0,445.3C525.5,444.9 528.2,444.8 530.4,445.0C532.7,445.1 534.4,445.7 536.4,446.1C538.4,446.6 540.3,447.5 542.3,447.9C544.3,448.3 546.0,448.8 548.2,448.7C550.5,448.5 553.2,448.1 555.7,447.2C558.1,446.3 560.6,444.6 563.1,443.5C565.6,442.4 568.5,441.7 570.5,440.5C572.5,439.3 573.4,437.4 575.0,436.1C576.5,434.7 579.2,433.0 580.0,432.4L580.0,455.9L504.5,455.9Z"/>
<path fill="#e0f20a" d="M567.5,455.9C568.3,455.1 570.5,452.4 572.0,450.9C573.5,449.4 575.1,447.9 576.4,447.2C577.8,446.4 579.4,446.6 580.0,446.4L580.0,455.9L567.5,455.9Z"/>
</g>
<g clip-path="url(#c23)">
<rect x="574" y="396" width="87" height="60" fill="#2db814"/>
<path fill="#008c40" d="M574.0,404.2C575.0,404.7 578.1,406.1 579.9,407.1C581.8,408.1 584.8,408.9 585.1,410.1C585.5,411.3 583.0,413.1 582.2,414.5C581.3,416.0 580.9,417.6 579.9,419.0C578.9,420.4 577.2,421.8 576.2,422.7C575.2,423.6 574.4,423.9 574.0,424.2L574.0,404.2Z"/>
<path fill="#008c40" d="M597.0,396.0L674.0,396.0L674.0,433.8C671.7,433.8 663.4,434.1 660.1,433.8C656.7,433.6 656.1,432.8 654.1,432.4C652.1,431.9 650.4,431.2 648.2,430.9C646.0,430.5 643.2,430.6 640.8,430.1C638.3,429.6 635.8,428.6 633.3,427.9C630.9,427.2 628.4,426.3 625.9,425.7C623.5,425.1 620.5,424.3 618.5,424.2C616.5,424.1 615.5,424.5 614.1,424.9C612.6,425.4 611.0,427.0 609.6,426.9C608.2,426.7 607.0,425.6 605.9,424.2C604.8,422.8 603.9,420.5 602.9,418.3C601.9,416.0 600.8,413.3 600.0,410.8C599.1,408.4 598.2,405.9 597.7,403.4C597.2,400.9 597.1,397.2 597.0,396.0Z"/>
<path fill="#004d99" d="M605.2,396.0L674.0,396.0L674.0,420.5C671.7,420.5 663.4,420.2 660.1,420.5C656.7,420.7 656.1,421.3 654.1,422.0C652.1,422.6 649.9,423.7 648.2,424.2C646.5,424.7 645.5,425.1 643.7,424.9C642.0,424.8 639.8,424.2 637.8,423.4C635.8,422.7 633.8,421.5 631.9,420.5C629.9,419.5 628.2,418.5 625.9,417.5C623.7,416.5 621.0,414.9 618.5,414.5C616.0,414.2 612.9,415.8 611.1,415.3C609.2,414.8 608.4,413.1 607.4,411.6C606.3,410.1 605.4,408.1 604.9,406.4C604.3,404.7 604.1,402.9 604.1,401.2C604.2,399.5 605.0,396.9 605.2,396.0Z"/>
<path fill="#0000f0" d="M639.3,396.0L674.0,396.0L674.0,410.8C671.7,410.8 663.4,410.2 660.1,410.8C656.7,411.5 656.3,413.4 654.1,414.5C651.9,415.7 648.7,417.8 646.7,418.0C644.7,418.1 644.0,416.4 642.2,415.3C640.5,414.2 638.0,412.6 636.3,411.6C634.6,410.6 632.1,410.5 631.9,409.4C631.6,408.2 634.0,406.4 634.8,404.9C635.7,403.4 636.3,401.9 637.1,400.5C637.8,399.0 638.9,396.7 639.3,396.0Z"/>
<path fill="#80d60d" d="M574.0,433.8C575.0,433.5 577.5,432.0 579.9,431.6C582.4,431.2 586.4,431.4 588.8,431.3C591.3,431.2 593.2,431.3 594.8,430.9C596.4,430.5 597.4,428.8 598.5,428.9C599.6,429.1 600.6,430.4 601.4,431.6C602.3,432.8 602.9,434.9 603.7,436.1C604.4,437.2 604.9,438.2 605.9,438.3C606.9,438.4 608.4,437.5 609.6,436.8C610.8,436.1 611.8,434.5 613.3,433.8C614.8,433.2 616.4,432.7 618.5,432.8C620.6,432.9 623.5,433.7 625.9,434.3C628.4,434.8 631.1,435.4 633.3,436.1C635.6,436.7 637.3,437.5 639.3,438.3C641.3,439.0 643.0,440.1 645.2,440.5C647.4,440.9 650.2,440.3 652.6,440.5C655.1,440.8 656.5,441.7 660.1,442.0C663.6,442.2 671.7,442.0 674.0,442.0L674.0,455.9L574.0,455.9L574.0,433.8Z"/>
<path fill="#e0f20a" d="M574.0,447.2C575.0,447.2 578.0,446.9 579.9,447.2C581.9,447.5 583.6,448.7 585.9,449.1C588.1,449.5 590.8,449.2 593.3,449.4C595.8,449.7 598.6,450.5 600.7,450.6C602.8,450.7 604.5,450.8 605.9,450.2C607.3,449.5 607.8,447.4 608.9,446.4C610.0,445.5 611.0,444.7 612.6,444.2C614.2,443.7 616.5,443.4 618.5,443.5C620.5,443.6 622.8,444.3 624.4,445.0C626.1,445.6 627.2,446.1 628.2,447.2C629.1,448.3 629.9,450.2 630.4,451.6C630.9,453.1 631.0,455.2 631.1,455.9L574.0,455.9L574.0,447.2Z"/>
<path fill="#e0f20a" d="M648.2,455.9C648.9,455.6 651.2,454.3 652.6,453.9C654.1,453.4 655.8,453.4 657.1,453.1C658.3,452.9 657.2,452.5 660.1,452.4C662.9,452.3 671.7,452.4 674.0,452.4L674.0,455.9L648.2,455.9Z"/>
</g>
<g clip-path="url(#c24)">
<rect x="80" y="452" width="60" height="60" fill="#4545ff"/>
<path fill="#a0a0ff" d="M140.0,459.6C139.7,459.9 138.8,460.3 138.4,461.0C138.0,461.7 137.2,463.0 137.5,463.7C137.8,464.4 139.6,464.8 140.0,465.0L140.0,459.6Z"/>
<path fill="#0000f0" d="M78.2,460.1L80.0,460.1C81.5,460.2 86.0,459.9 89.0,460.5C92.0,461.1 95.0,462.9 98.0,463.7C101.0,464.5 103.2,465.0 107.0,465.5C110.7,466.0 114.9,466.5 120.4,466.8C125.9,467.2 136.8,467.6 140.0,467.7L142.9,467.7L142.9,514.9L78.2,514.9L78.2,460.1Z"/>
<path fill="#004d99" d="M78.2,464.6L80.0,464.6C81.5,464.7 86.0,464.9 89.0,465.5C92.0,466.1 95.0,467.6 98.0,468.2C101.0,468.8 103.2,468.7 107.0,469.1C110.7,469.4 114.9,470.1 120.4,470.4C125.9,470.7 136.8,470.9 140.0,471.0L142.9,471.0L142.9,514.9L78.2,514.9L78.2,464.6Z"/>
<path fill="#008c40" d="M78.2,466.4L80.0,466.4C81.5,466.5 86.0,466.2 89.0,466.8C92.0,467.4 95.0,468.9 98.0,470.0C101.0,471.1 103.2,472.8 107.0,473.4C110.7,474.0 114.9,473.4 120.4,473.4C125.9,473.4 136.8,473.5 140.0,473.6L142.9,473.6L142.9,514.9L78.2,514.9L78.2,466.4Z"/>
<path fill="#2db814" d="M78.2,468.2L80.0,468.2C81.5,468.2 86.0,467.4 89.0,468.2C92.0,468.9 95.0,471.5 98.0,472.7C101.0,473.8 103.2,474.4 107.0,474.9C110.7,475.4 114.9,475.4 120.4,475.5C125.9,475.7 136.8,475.8 140.0,475.8L142.9,475.8L142.9,514.9L78.2,514.9L78.2,468.2Z"/>
<path fill="#80d60d" d="M78.2,470.0L80.0,470.0C81.5,470.0 86.0,469.4 89.0,470.0C92.0,470.6 95.0,472.5 98.0,473.6C101.0,474.6 103.2,475.5 107.0,476.1C110.7,476.6 114.9,476.7 120.4,477.0C125.9,477.2 136.8,477.5 140.0,477.6L142.9,477.6L142.9,514.9L78.2,514.9L78.2,470.0Z"/>
<path fill="#e0f20a" d="M78.2,473.6L80.0,473.6C81.5,473.6 86.0,473.4 89.0,473.6C92.0,473.7 95.0,473.9 98.0,474.5C101.0,475.1 103.2,476.5 107.0,477.2C110.7,477.8 114.9,478.2 120.4,478.5C125.9,478.8 136.8,478.9 140.0,479.0L142.9,479.0L142.9,514.9L78.2,514.9L78.2,473.6Z"/>
<path fill="#ffc800" d="M78.2,476.7L80.0,476.7C81.5,476.7 86.0,476.7 89.0,476.7C92.0,476.7 95.0,476.3 98.0,476.7C101.0,477.2 104.0,478.6 107.0,479.4C109.9,480.2 110.4,480.9 115.9,481.6C121.4,482.4 136.0,483.3 140.0,483.6L142.9,483.6L142.9,514.9L78.2,514.9L78.2,476.7Z"/>
<path fill="#ff6600" d="M78.2,478.5L80.0,478.5C81.5,478.4 86.0,478.1 89.0,478.1C92.0,478.0 95.0,477.5 98.0,478.1C101.0,478.6 104.0,480.3 107.0,481.2C109.9,482.1 110.4,482.8 115.9,483.4C121.4,484.1 136.0,484.9 140.0,485.2L142.9,485.2L142.9,514.9L78.2,514.9L78.2,478.5Z"/>
<path fill="#ff0a00" d="M78.2,479.9L80.0,479.9C81.5,479.8 86.7,479.6 89.0,479.4C91.2,479.3 91.2,478.8 93.5,479.0C95.7,479.1 99.8,479.6 102.5,480.3C105.2,481.1 107.4,482.7 109.6,483.4C111.9,484.2 110.9,484.5 115.9,485.1C121.0,485.6 136.0,486.3 140.0,486.6L142.9,486.6L142.9,514.9L78.2,514.9L78.2,479.9Z"/>
<path fill="#ff6600" d="M78.2,483.4L80.0,483.4C81.2,483.5 85.2,483.4 87.2,483.9C89.1,484.3 89.9,485.6 91.7,486.1C93.5,486.6 95.4,486.6 98.0,486.9C100.5,487.1 104.0,487.5 107.0,487.8C109.9,488.1 113.7,488.4 115.9,488.7C118.2,489.0 116.4,489.3 120.4,489.6C124.4,489.9 136.8,490.3 140.0,490.5L142.9,490.5L142.9,514.9L78.2,514.9L78.2,483.4Z"/>
<path fill="#ffc800" d="M78.2,487.9L80.0,487.9C80.9,487.9 83.4,487.6 85.4,487.5C87.3,487.4 89.6,487.4 91.7,487.5C93.8,487.6 95.4,487.8 98.0,488.1C100.5,488.4 104.0,488.9 107.0,489.3C109.9,489.7 113.2,490.0 115.9,490.5C118.6,490.9 119.1,491.6 123.1,492.0C127.1,492.3 137.2,492.5 140.0,492.6L142.9,492.6L142.9,514.9L78.2,514.9L78.2,487.9Z"/>
<path fill="#e0f20a" d="M78.2,491.5L80.0,491.5C80.9,491.6 83.1,491.8 85.4,492.0C87.6,492.1 90.6,492.2 93.5,492.4C96.3,492.7 99.5,493.1 102.5,493.5C105.5,493.9 108.5,494.6 111.4,494.9C114.4,495.3 115.7,495.4 120.4,495.5C125.2,495.6 136.8,495.5 140.0,495.5L142.9,495.5L142.9,514.9L78.2,514.9L78.2,491.5Z"/>
<path fill="#80d60d" d="M80.0,501.4C81.5,501.7 85.5,502.8 89.0,503.2C92.4,503.7 98.7,502.6 100.7,504.1C102.6,505.6 100.8,510.7 100.8,512.0L80.0,512.0L80.0,501.4Z"/>
</g>
<g clip-path="url(#c25)">
<rect x="140" y="452" width="60" height="60" fill="#4545ff"/>
<path fill="#a0a0ff" d="M140.0,459.2C140.6,458.7 142.5,456.3 143.6,456.0C144.6,455.7 145.2,456.7 146.3,457.4C147.3,458.1 148.5,459.5 149.9,460.1C151.2,460.7 152.7,461.1 154.4,461.0C156.0,460.9 158.3,460.2 159.8,459.6C161.3,459.1 162.0,458.0 163.4,457.6C164.7,457.1 166.5,456.8 167.9,456.9C169.2,457.1 170.1,457.7 171.4,458.3C172.8,458.9 174.4,460.0 175.9,460.5C177.4,461.1 178.6,461.4 180.4,461.4C182.2,461.5 184.8,461.2 186.7,461.0C188.7,460.8 189.9,460.2 192.1,460.1C194.3,460.0 198.7,460.5 200.0,460.5L200.0,471.3C199.0,471.5 195.8,471.9 193.9,472.2C192.0,472.5 190.2,473.0 188.5,473.1C186.9,473.2 185.2,473.0 184.0,472.7C182.8,472.3 182.2,471.5 181.3,470.9C180.4,470.2 179.8,469.3 178.6,468.6C177.4,467.9 176.1,467.3 174.1,466.8C172.2,466.3 169.6,465.7 167.0,465.5C164.3,465.3 161.0,465.4 158.0,465.5C155.0,465.6 151.5,465.9 149.0,465.9C146.4,465.9 144.2,465.7 142.7,465.5C141.2,465.3 140.4,464.7 140.0,464.6L140.0,459.2Z"/>
<path fill="#0000f0" d="M138.2,468.6L140.0,468.6C143.0,468.8 153.5,469.3 158.0,469.5C162.5,469.7 163.5,469.5 167.0,470.0C170.4,470.4 175.6,471.5 178.6,472.2C181.6,473.0 183.0,474.2 184.9,474.5C186.9,474.7 187.8,473.7 190.3,473.6C192.8,473.4 198.4,473.4 200.0,473.4L202.9,473.4L202.9,514.9L138.2,514.9L138.2,468.6Z"/>
<path fill="#004d99" d="M138.2,472.7L140.0,472.7C144.5,472.8 160.5,473.1 167.0,473.4C173.4,473.7 175.6,474.0 178.6,474.5C181.6,474.9 183.0,476.1 184.9,476.3C186.9,476.4 187.8,475.7 190.3,475.5C192.8,475.4 198.4,475.2 200.0,475.2L202.9,475.2L202.9,514.9L138.2,514.9L138.2,472.7Z"/>
<path fill="#008c40" d="M138.2,474.9L140.0,474.9C144.5,475.0 160.5,475.1 167.0,475.4C173.4,475.6 175.6,475.9 178.6,476.3C181.6,476.6 183.0,477.5 184.9,477.6C186.9,477.8 187.8,477.3 190.3,477.2C192.8,477.0 198.4,476.8 200.0,476.7L202.9,476.7L202.9,514.9L138.2,514.9L138.2,474.9Z"/>
<path fill="#2db814" d="M138.2,476.7L140.0,476.7C144.5,476.9 160.5,477.3 167.0,477.6C173.4,477.9 175.6,478.1 178.6,478.5C181.6,478.9 183.0,479.8 184.9,479.9C186.9,479.9 187.8,479.2 190.3,479.0C192.8,478.7 198.4,478.6 200.0,478.5L202.9,478.5L202.9,514.9L138.2,514.9L138.2,476.7Z"/>
<path fill="#80d60d" d="M138.2,478.5L140.0,478.5C144.5,478.7 160.5,479.1 167.0,479.4C173.4,479.7 175.6,479.9 178.6,480.3C181.6,480.7 181.4,481.6 184.9,481.6C188.5,481.7 197.5,480.9 200.0,480.8L202.9,480.8L202.9,514.9L138.2,514.9L138.2,478.5Z"/>
<path fill="#e0f20a" d="M138.2,480.3L140.0,480.3C144.5,480.5 159.5,480.8 167.0,481.2C174.4,481.6 179.4,482.8 184.9,483.0C190.4,483.2 197.5,482.6 200.0,482.5L202.9,482.5L202.9,514.9L138.2,514.9L138.2,480.3Z"/>
<path fill="#ffc800" d="M138.2,484.2L140.0,484.2C144.5,484.2 159.5,484.1 167.0,484.2C174.4,484.2 179.4,484.4 184.9,484.5C190.4,484.6 197.5,484.7 200.0,484.8L202.9,484.8L202.9,514.9L138.2,514.9L138.2,484.2Z"/>
<path fill="#ff6600" d="M138.2,485.7L140.0,485.7L200.0,486.0L202.9,486.0L202.9,514.9L138.2,514.9L138.2,485.7Z"/>
<path fill="#ff0a00" d="M138.2,486.6L140.0,486.6L200.0,486.8L202.9,486.8L202.9,514.9L138.2,514.9L138.2,486.6Z"/>
<path fill="#ff6600" d="M138.2,489.7L140.0,489.7C144.5,489.7 159.5,489.3 167.0,489.3C174.4,489.3 179.4,489.7 184.9,489.7C190.4,489.8 197.5,489.7 200.0,489.7L202.9,489.7L202.9,514.9L138.2,514.9L138.2,489.7Z"/>
<path fill="#ffc800" d="M138.2,492.0L140.0,492.0C143.7,491.9 158.0,491.8 162.5,491.5C167.0,491.3 164.7,490.7 167.0,490.6C169.2,490.6 173.7,490.6 175.9,491.1C178.2,491.5 176.4,492.8 180.4,493.3C184.4,493.9 196.8,494.1 200.0,494.2L202.9,494.2L202.9,514.9L138.2,514.9L138.2,492.0Z"/>
<path fill="#e0f20a" d="M138.2,495.3L140.0,495.3C143.4,495.3 156.2,495.2 160.7,495.3C165.2,495.4 160.4,495.9 167.0,496.0C173.5,496.1 194.5,496.0 200.0,496.0L202.9,496.0L202.9,514.9L138.2,514.9L138.2,495.3Z"/>
</g>
<g clip-path="url(#c26)">
<rect x="200" y="452" width="60" height="60" fill="#4545ff"/>
<path fill="#a0a0ff" d="M200.0,461.0C200.9,461.1 203.6,461.1 205.4,461.4C207.2,461.7 208.7,462.4 210.8,462.8C212.9,463.2 215.6,463.6 218.0,463.7C220.4,463.8 222.9,463.1 225.2,463.2C227.4,463.4 229.6,464.1 231.4,464.6C233.2,465.0 234.3,465.8 235.9,465.9C237.6,466.1 239.5,465.7 241.3,465.5C243.1,465.3 244.6,465.0 246.7,464.6C248.8,464.2 251.7,463.6 253.9,463.2C256.1,462.9 259.0,462.5 260.0,462.3L260.0,473.6C257.5,473.6 249.7,473.6 244.9,473.6C240.2,473.5 235.2,473.4 231.4,473.4C227.7,473.4 225.0,473.7 222.5,473.6C219.9,473.4 218.4,472.9 216.2,472.7C213.9,472.4 211.7,472.4 209.0,472.2C206.3,472.1 201.5,471.8 200.0,471.8L200.0,461.0Z"/>
<path fill="#0000f0" d="M198.2,473.4L200.0,473.4L260.0,474.0L262.9,474.0L262.9,514.9L198.2,514.9L198.2,473.4Z"/>
<path fill="#004d99" d="M198.2,475.2L200.0,475.2C203.7,475.4 212.5,476.0 222.5,476.3C232.5,476.5 253.8,476.6 260.0,476.7L262.9,476.7L262.9,514.9L198.2,514.9L198.2,475.2Z"/>
<path fill="#008c40" d="M198.2,476.4L200.0,476.4C203.7,476.6 212.5,477.3 222.5,477.6C232.5,477.9 253.8,478.1 260.0,478.2L262.9,478.2L262.9,514.9L198.2,514.9L198.2,476.4Z"/>
<path fill="#2db814" d="M198.2,478.1L200.0,478.1C203.7,478.2 212.5,478.7 222.5,479.0C232.5,479.3 253.8,479.7 260.0,479.9L262.9,479.9L262.9,514.9L198.2,514.9L198.2,478.1Z"/>
<path fill="#80d60d" d="M198.2,479.9L200.0,479.9C203.7,480.0 212.5,480.5 222.5,480.8C232.5,481.0 253.8,481.4 260.0,481.5L262.9,481.5L262.9,514.9L198.2,514.9L198.2,479.9Z"/>
<path fill="#e0f20a" d="M198.2,482.1L200.0,482.1C203.7,482.2 212.5,482.4 222.5,482.5C232.5,482.7 253.8,483.1 260.0,483.3L262.9,483.3L262.9,514.9L198.2,514.9L198.2,482.1Z"/>
<path fill="#ffc800" d="M198.2,486.0L200.0,486.0L260.0,486.1L262.9,486.1L262.9,514.9L198.2,514.9L198.2,486.0Z"/>
<path fill="#ff6600" d="M198.2,486.6L200.0,486.6L260.0,486.7L262.9,486.7L262.9,514.9L198.2,514.9L198.2,486.6Z"/>
<path fill="#ff0a00" d="M198.2,487.2L200.0,487.2L260.0,487.2L262.9,487.2L262.9,514.9L198.2,514.9L198.2,487.2Z"/>
<path fill="#ff6600" d="M198.2,490.2L200.0,490.2L260.0,490.6L262.9,490.6L262.9,514.9L198.2,514.9L198.2,490.2Z"/>
<path fill="#ffc800" d="M198.2,494.2L200.0,494.2L260.0,494.7L262.9,494.7L262.9,514.9L198.2,514.9L198.2,494.2Z"/>
<path fill="#e0f20a" d="M198.2,496.0L200.0,496.0C202.2,496.1 209.0,496.0 213.5,496.5C218.0,496.9 219.2,498.2 227.0,498.7C234.7,499.2 254.5,499.5 260.0,499.6L262.9,499.6L262.9,514.9L198.2,514.9L198.2,496.0Z"/>
</g>
<g clip-path="url(#c27)">
<rect x="260" y="452" width="60" height="60" fill="#4545ff"/>
<path fill="#a0a0ff" d="M260.0,462.8C260.6,462.9 262.5,462.8 263.6,463.2C264.6,463.7 266.0,463.9 266.3,465.5C266.6,467.0 266.4,471.3 265.4,472.7C264.3,474.0 260.9,473.4 260.0,473.6L260.0,462.8Z"/>
<path fill="#0000f0" d="M258.2,474.0L260.0,474.0C265.4,473.9 286.4,474.0 292.3,473.6C298.3,473.1 293.8,472.1 295.9,471.3C298.0,470.6 300.9,469.9 304.9,469.1C308.9,468.2 317.5,466.8 320.0,466.4L322.9,466.4L322.9,514.9L258.2,514.9L258.2,474.0Z"/>
<path fill="#004d99" d="M258.2,476.7L260.0,476.7C265.4,476.5 286.4,476.1 292.3,475.5C298.3,475.0 293.8,474.3 295.9,473.6C298.0,472.9 300.9,472.1 304.9,471.3C308.9,470.5 317.5,469.1 320.0,468.6L322.9,468.6L322.9,514.9L258.2,514.9L258.2,476.7Z"/>
<path fill="#008c40" d="M258.2,478.1L260.0,478.1C265.4,477.8 286.4,477.2 292.3,476.7C298.3,476.2 293.8,475.4 295.9,474.9C298.0,474.4 300.9,474.2 304.9,473.6C308.9,472.9 317.5,471.3 320.0,470.9L322.9,470.9L322.9,514.9L258.2,514.9L258.2,478.1Z"/>
<path fill="#2db814" d="M258.2,479.4L260.0,479.4C265.4,479.2 286.4,478.6 292.3,478.1C298.3,477.5 293.8,476.7 295.9,476.3C298.0,475.8 300.9,475.9 304.9,475.4C308.9,474.8 317.5,473.5 320.0,473.1L322.9,473.1L322.9,514.9L258.2,514.9L258.2,479.4Z"/>
<path fill="#80d60d" d="M258.2,480.8L260.0,480.8C265.4,480.5 286.4,479.9 292.3,479.4C298.3,479.0 293.8,478.4 295.9,478.1C298.0,477.7 300.9,477.5 304.9,477.2C308.9,476.8 317.5,476.0 320.0,475.8L322.9,475.8L322.9,514.9L258.2,514.9L258.2,480.8Z"/>
<path fill="#e0f20a" d="M258.2,482.5L260.0,482.5C265.4,482.2 286.4,481.3 292.3,480.8C298.3,480.2 293.8,479.7 295.9,479.4C298.0,479.1 300.9,479.2 304.9,479.0C308.9,478.7 317.5,478.2 320.0,478.1L322.9,478.1L322.9,514.9L258.2,514.9L258.2,482.5Z"/>
<path fill="#ffc800" d="M258.2,485.7L260.0,485.7C264.5,485.6 281.0,485.6 287.0,485.2C292.9,484.9 290.4,484.0 295.9,483.4C301.4,482.8 316.0,481.9 320.0,481.6L322.9,481.6L322.9,514.9L258.2,514.9L258.2,485.7Z"/>
<path fill="#ff6600" d="M258.2,486.3L260.0,486.3C264.5,486.3 281.0,486.2 287.0,486.1C292.9,486.0 290.4,486.1 295.9,485.7C301.4,485.3 316.0,484.2 320.0,483.9L322.9,483.9L322.9,514.9L258.2,514.9L258.2,486.3Z"/>
<path fill="#ff0a00" d="M258.2,486.9L260.0,486.9C266.0,486.9 285.9,486.9 295.9,487.0C305.9,487.2 316.0,487.6 320.0,487.8L322.9,487.8L322.9,514.9L258.2,514.9L258.2,486.9Z"/>
<path fill="#ff6600" d="M258.2,490.6L260.0,490.6C264.5,490.6 281.0,490.5 287.0,490.2C292.9,489.9 290.4,489.0 295.9,488.8C301.4,488.7 316.0,489.2 320.0,489.3L322.9,489.3L322.9,514.9L258.2,514.9L258.2,490.6Z"/>
<path fill="#ffc800" d="M258.2,494.2L260.0,494.2C263.0,494.2 272.0,494.2 278.0,493.8C284.0,493.3 288.9,491.8 295.9,491.5C302.9,491.3 316.0,492.3 320.0,492.4L322.9,492.4L322.9,514.9L258.2,514.9L258.2,494.2Z"/>
<path fill="#e0f20a" d="M258.2,499.6L260.0,499.6C262.2,499.3 269.0,498.3 273.5,497.8C278.0,497.4 283.2,497.1 287.0,496.9C290.7,496.8 290.4,497.2 295.9,496.9C301.4,496.6 316.0,495.4 320.0,495.1L322.9,495.1L322.9,514.9L258.2,514.9L258.2,499.6Z"/>
</g>
<g clip-path="url(#c28)">
<rect x="320" y="452" width="60" height="60" fill="#4545ff"/>
<path fill="#0000f0" d="M318.2,466.4L320.0,466.4C323.0,466.5 333.5,467.3 338.0,466.8C342.5,466.4 344.3,464.7 347.0,463.7C349.6,462.7 351.7,461.1 354.1,461.0C356.5,460.9 358.9,462.4 361.3,463.2C363.7,464.1 365.4,465.6 368.5,465.9C371.6,466.3 378.1,465.6 380.0,465.5L382.9,465.5L382.9,514.9L318.2,514.9L318.2,466.4Z"/>
<path fill="#004d99" d="M318.2,469.5L320.0,469.5C323.0,469.5 333.5,469.9 338.0,469.5C342.5,469.1 344.3,467.9 347.0,467.3C349.6,466.6 351.7,465.6 354.1,465.5C356.5,465.4 358.9,466.3 361.3,466.8C363.7,467.3 365.4,468.4 368.5,468.6C371.6,468.8 378.1,468.2 380.0,468.2L382.9,468.2L382.9,514.9L318.2,514.9L318.2,469.5Z"/>
<path fill="#008c40" d="M318.2,471.3L320.0,471.3C323.0,471.4 333.5,471.9 338.0,471.6C342.5,471.3 344.3,470.1 347.0,469.5C349.6,468.9 351.7,468.1 354.1,468.0C356.5,467.9 358.9,468.7 361.3,469.1C363.7,469.5 365.4,470.3 368.5,470.4C371.6,470.6 378.1,470.0 380.0,470.0L382.9,470.0L382.9,514.9L318.2,514.9L318.2,471.3Z"/>
<path fill="#2db814" d="M318.2,473.6L320.0,473.6C323.0,473.6 333.5,473.9 338.0,473.6C342.5,473.2 344.3,471.9 347.0,471.3C349.6,470.7 351.7,470.0 354.1,470.0C356.5,470.0 358.9,470.9 361.3,471.3C363.7,471.7 365.4,472.1 368.5,472.2C371.6,472.4 378.1,472.2 380.0,472.2L382.9,472.2L382.9,514.9L318.2,514.9L318.2,473.6Z"/>
<path fill="#80d60d" d="M318.2,475.4L320.0,475.4C323.0,475.3 333.5,475.6 338.0,475.2C342.5,474.8 344.3,473.6 347.0,473.1C349.6,472.7 351.7,472.5 354.1,472.5C356.5,472.5 358.9,472.9 361.3,473.1C363.7,473.4 365.4,473.9 368.5,474.0C371.6,474.2 378.1,474.0 380.0,474.0L382.9,474.0L382.9,514.9L318.2,514.9L318.2,475.4Z"/>
<path fill="#e0f20a" d="M318.2,476.7L320.0,476.7C323.0,476.7 333.5,477.0 338.0,476.7C342.5,476.4 344.3,475.3 347.0,474.9C349.6,474.5 351.7,474.3 354.1,474.3C356.5,474.3 358.9,474.7 361.3,474.9C363.7,475.1 365.4,475.5 368.5,475.5C371.6,475.6 378.1,475.4 380.0,475.4L382.9,475.4L382.9,514.9L318.2,514.9L318.2,476.7Z"/>
<path fill="#ffc800" d="M318.2,480.8L320.0,480.8C321.5,480.7 326.0,480.9 329.0,480.6C332.0,480.3 335.0,479.4 338.0,479.0C341.0,478.5 344.3,478.3 347.0,478.1C349.6,477.8 351.7,477.7 354.1,477.6C356.5,477.5 358.9,477.5 361.3,477.6C363.7,477.8 365.4,478.3 368.5,478.5C371.6,478.7 378.1,478.9 380.0,479.0L382.9,479.0L382.9,514.9L318.2,514.9L318.2,480.8Z"/>
<path fill="#ff6600" d="M318.2,483.0L320.0,483.0C321.5,482.8 326.0,482.2 329.0,481.6C332.0,481.1 335.0,480.4 338.0,479.9C341.0,479.3 344.3,478.8 347.0,478.5C349.6,478.2 351.7,478.3 354.1,478.2C356.5,478.2 358.9,478.1 361.3,478.2C363.7,478.4 365.4,478.9 368.5,479.1C371.6,479.4 378.1,479.7 380.0,479.9L382.9,479.9L382.9,514.9L318.2,514.9L318.2,483.0Z"/>
<path fill="#ff0a00" d="M344.3,480.8C344.7,480.2 347.7,479.7 349.6,479.4C351.6,479.1 353.7,479.0 355.9,479.0C358.2,478.9 361.0,478.8 363.1,479.0C365.2,479.1 367.0,479.4 368.5,479.9C370.0,480.3 371.7,481.0 372.1,481.6C372.6,482.3 372.1,483.4 371.2,483.9C370.3,484.4 368.5,484.6 366.7,484.5C364.9,484.4 362.5,483.8 360.4,483.4C358.3,483.1 356.4,482.7 354.1,482.5C351.9,482.4 348.6,482.8 347.0,482.5C345.3,482.2 343.8,481.3 344.3,480.8Z"/>
<path fill="#ff0a00" d="M320.0,487.0C322.1,487.0 328.1,486.7 332.6,486.6C337.1,486.5 344.6,486.2 347.0,486.6C349.4,487.0 349.4,488.5 347.0,488.8C344.6,489.2 337.1,488.7 332.6,488.7C328.1,488.7 322.1,488.8 320.0,488.8L320.0,487.0Z"/>
<path fill="#ffc800" d="M318.2,491.5L320.0,491.5C321.5,491.5 326.0,491.4 329.0,491.1C332.0,490.8 335.0,490.2 338.0,489.7C341.0,489.3 344.0,488.7 347.0,488.4C349.9,488.1 352.9,488.0 355.9,487.9C358.9,487.9 360.9,487.9 364.9,487.9C368.9,487.9 377.5,487.9 380.0,487.9L382.9,487.9L382.9,514.9L318.2,514.9L318.2,491.5Z"/>
<path fill="#e0f20a" d="M318.2,495.1L320.0,495.1C321.5,495.1 326.0,494.8 329.0,494.7C332.0,494.5 335.0,494.6 338.0,494.2C341.0,493.9 344.0,492.9 347.0,492.4C349.9,492.0 352.9,491.7 355.9,491.5C358.9,491.4 360.9,491.4 364.9,491.5C368.9,491.7 377.5,492.3 380.0,492.4L382.9,492.4L382.9,514.9L318.2,514.9L318.2,495.1Z"/>
<path fill="#80d60d" d="M345.2,512.0C345.2,510.6 344.3,505.1 345.3,503.7C346.4,502.2 349.7,503.6 351.4,503.2C353.2,502.8 354.0,501.6 355.9,501.2C357.9,500.9 361.0,500.9 363.1,501.2C365.2,501.6 365.7,502.9 368.5,503.2C371.3,503.5 378.1,503.2 380.0,503.2L380.0,512.0L345.2,512.0Z"/>
</g>
<g clip-path="url(#c29)">
<rect x="380" y="452" width="60" height="60" fill="#4545ff"/>
<path fill="#0000f0" d="M378.2,463.7L380.0,463.7C380.7,463.4 383.0,462.9 384.5,461.9C386.0,460.8 387.8,459.2 389.0,457.4C390.2,455.6 391.2,452.1 391.7,451.1L442.9,451.1L442.9,514.9L378.2,514.9L378.2,463.7Z"/>
<path fill="#004d99" d="M378.2,467.3L380.0,467.3C381.5,467.0 386.0,466.7 389.0,465.5C392.0,464.3 395.5,461.7 398.0,460.1C400.5,458.5 402.5,457.5 404.0,456.0C405.5,454.5 406.5,451.9 407.0,451.1L442.9,451.1L442.9,514.9L378.2,514.9L378.2,467.3Z"/>
<path fill="#008c40" d="M378.2,469.5L380.0,469.5C381.5,469.2 386.0,468.7 389.0,467.7C392.0,466.7 395.0,465.0 398.0,463.7C401.0,462.4 404.1,461.4 407.0,460.1C409.8,458.8 413.1,457.5 415.0,456.0C417.0,454.6 418.0,452.3 418.6,451.6L442.9,451.6L442.9,514.9L378.2,514.9L378.2,469.5Z"/>
<path fill="#2db814" d="M378.2,471.3L380.0,471.3C381.5,471.1 386.0,470.6 389.0,470.0C392.0,469.3 395.0,468.2 398.0,467.3C401.0,466.4 404.0,465.6 407.0,464.6C409.9,463.5 412.9,462.2 415.9,461.0C418.9,459.8 421.9,458.4 424.9,457.4C427.9,456.4 431.4,455.6 433.9,455.1C436.4,454.7 439.0,454.8 440.0,454.7L442.9,454.7L442.9,514.9L378.2,514.9L378.2,471.3Z"/>
<path fill="#80d60d" d="M378.2,473.1L380.0,473.1C381.5,473.0 386.0,472.7 389.0,472.2C392.0,471.7 395.0,470.6 398.0,470.0C401.0,469.3 404.0,469.1 407.0,468.2C409.9,467.3 412.9,465.6 415.9,464.6C418.9,463.5 421.9,462.6 424.9,461.9C427.9,461.2 431.4,460.8 433.9,460.5C436.4,460.2 439.0,460.2 440.0,460.1L442.9,460.1L442.9,514.9L378.2,514.9L378.2,473.1Z"/>
<path fill="#e0f20a" d="M378.2,474.5L380.0,474.5C381.5,474.4 386.0,474.4 389.0,474.0C392.0,473.6 395.0,472.7 398.0,472.2C401.0,471.7 404.0,471.6 407.0,470.9C409.9,470.1 412.9,468.6 415.9,467.7C418.9,466.8 421.9,465.8 424.9,465.5C427.9,465.2 431.4,465.8 433.9,465.9C436.4,466.1 439.0,466.3 440.0,466.4L442.9,466.4L442.9,514.9L378.2,514.9L378.2,474.5Z"/>
<path fill="#ffc800" d="M378.2,476.3L380.0,476.3C381.5,476.2 386.0,476.1 389.0,475.8C392.0,475.5 395.0,474.8 398.0,474.5C401.0,474.1 404.0,473.9 407.0,473.6C409.9,473.2 412.9,472.5 415.9,472.2C418.9,471.9 421.9,471.8 424.9,471.8C427.9,471.8 431.4,472.1 433.9,472.2C436.4,472.4 439.0,472.6 440.0,472.7L442.9,472.7L442.9,514.9L378.2,514.9L378.2,476.3Z"/>
<path fill="#ff6600" d="M378.2,478.1L380.0,478.1C381.5,477.9 386.0,477.6 389.0,477.3C392.0,477.0 395.0,476.6 398.0,476.3C401.0,475.9 404.0,475.7 407.0,475.4C409.9,475.0 412.9,474.3 415.9,474.0C418.9,473.7 421.9,473.6 424.9,473.6C427.9,473.6 431.4,473.9 433.9,474.0C436.4,474.2 439.0,474.4 440.0,474.5L442.9,474.5L442.9,514.9L378.2,514.9L378.2,478.1Z"/>
<path fill="#ff0a00" d="M440.0,482.5L440.0,487.9C439.0,487.9 435.8,488.2 433.9,487.9C432.0,487.7 430.3,487.0 428.5,486.6C426.7,486.2 424.9,486.3 423.1,485.7C421.3,485.1 419.7,483.6 417.7,483.0C415.8,482.4 414.0,482.3 411.4,482.1C408.9,481.9 405.5,481.8 402.5,481.6C399.5,481.5 396.3,481.4 393.5,481.2C390.6,481.1 386.7,481.0 385.4,480.8C384.0,480.5 384.0,480.2 385.4,479.9C386.7,479.6 389.9,479.3 393.5,479.0C397.1,478.7 403.2,478.3 407.0,478.1C410.7,477.8 412.9,477.9 415.9,477.6C418.9,477.3 422.5,476.2 424.9,476.3C427.3,476.3 428.8,477.2 430.3,478.1C431.8,479.0 432.3,480.9 433.9,481.6C435.5,482.4 439.0,482.4 440.0,482.5Z"/>
<path fill="#ffc800" d="M378.2,487.5L380.0,487.5C384.5,487.5 399.5,487.3 407.0,487.5C414.4,487.7 419.4,488.3 424.9,488.8C430.4,489.4 437.5,490.3 440.0,490.6L442.9,490.6L442.9,514.9L378.2,514.9L378.2,487.5Z"/>
<path fill="#e0f20a" d="M378.2,492.4L380.0,492.4C384.5,492.4 399.5,492.4 407.0,492.4C414.4,492.4 420.4,492.1 424.9,492.4C429.4,492.7 431.4,493.8 433.9,494.2C436.4,494.7 439.0,495.0 440.0,495.1L442.9,495.1L442.9,514.9L378.2,514.9L378.2,492.4Z"/>
<path fill="#80d60d" d="M380.0,503.2C387.3,503.2 416.7,501.7 424.0,503.2C431.4,504.7 424.0,510.6 424.0,512.0L380.0,512.0L380.0,503.2Z"/>
</g>
<g clip-path="url(#c30)">
<rect x="440" y="452" width="60" height="60" fill="#e0f20a"/>
<path fill="#008c40" d="M438.2,451.1L440.0,451.1L500.0,451.1L502.9,451.1L502.9,514.9L438.2,514.9L438.2,451.1Z"/>
<path fill="#2db814" d="M438.2,457.8L440.0,457.8C440.9,457.7 443.7,457.5 445.4,456.9C447.0,456.4 448.5,455.5 449.9,454.7C451.2,453.9 452.9,452.4 453.5,452.0L466.1,451.6L477.7,451.6L500.0,451.6L502.9,451.6L502.9,514.9L438.2,514.9L438.2,457.8Z"/>
<path fill="#80d60d" d="M438.2,460.5L440.0,460.5C441.2,460.4 444.9,460.1 447.2,459.6C449.4,459.2 451.4,458.4 453.5,457.8C455.6,457.3 456.8,456.8 459.8,456.5C462.8,456.2 468.0,455.9 471.4,456.0C474.9,456.2 477.9,456.9 480.4,457.4C483.0,457.8 484.5,458.6 486.7,458.7C489.0,458.9 491.7,458.4 493.9,458.3C496.1,458.1 499.0,457.9 500.0,457.8L502.9,457.8L502.9,514.9L438.2,514.9L438.2,460.5Z"/>
<path fill="#e0f20a" d="M438.2,465.0L440.0,465.0C440.9,464.8 443.6,464.1 445.4,463.7C447.2,463.2 448.7,462.8 450.8,462.3C452.9,461.9 455.3,461.2 458.0,461.0C460.7,460.8 464.0,460.8 467.0,461.0C469.9,461.1 472.9,461.3 475.9,461.9C478.9,462.5 482.5,463.7 484.9,464.6C487.3,465.5 488.5,466.1 490.3,467.3C492.1,468.5 494.1,470.7 495.7,471.8C497.3,472.8 499.3,473.3 500.0,473.6L502.9,473.6L502.9,514.9L438.2,514.9L438.2,465.0Z"/>
<path fill="#ffc800" d="M440.0,470.0C440.9,469.7 443.4,469.1 445.4,468.6C447.3,468.2 449.6,467.7 451.7,467.3C453.8,466.8 455.7,466.2 458.0,465.9C460.2,465.6 462.9,465.3 465.2,465.5C467.4,465.6 469.4,466.2 471.4,466.8C473.5,467.4 475.9,468.1 477.7,469.1C479.5,470.0 481.0,471.3 482.2,472.7C483.4,474.0 484.3,475.8 484.9,477.2C485.5,478.5 486.1,479.7 485.8,480.8C485.5,481.8 484.0,482.5 483.1,483.4C482.2,484.3 481.0,485.1 480.4,486.1C479.8,487.2 479.4,488.8 479.5,489.7C479.7,490.6 480.1,491.1 481.3,491.5C482.5,492.0 484.6,492.1 486.7,492.4C488.8,492.7 491.7,493.1 493.9,493.3C496.1,493.6 499.0,493.7 500.0,493.8L500.0,498.7C499.0,498.8 496.4,499.0 493.9,499.2C491.4,499.3 487.9,499.6 484.9,499.6C481.9,499.6 478.9,499.5 475.9,499.2C472.9,498.9 469.9,498.0 467.0,497.8C464.0,497.7 460.5,498.4 458.0,498.3C455.4,498.1 453.8,497.7 451.7,496.9C449.6,496.1 447.3,494.1 445.4,493.3C443.4,492.6 440.9,492.6 440.0,492.4L440.0,470.0Z"/>
<path fill="#ff6600" d="M450.3,472.7C450.6,472.1 451.5,471.3 452.6,470.9C453.7,470.4 455.4,469.9 457.1,470.0C458.7,470.0 461.3,470.6 462.5,471.3C463.7,472.1 464.1,473.6 464.3,474.5C464.4,475.4 464.4,476.4 463.4,476.7C462.3,477.0 459.6,476.4 458.0,476.3C456.3,476.1 454.7,476.1 453.5,475.8C452.3,475.5 451.3,475.0 450.8,474.5C450.3,473.9 450.0,473.3 450.3,472.7Z"/>
<path fill="#ff6600" d="M440.0,475.4C440.6,475.4 442.5,475.4 443.6,475.8C444.6,476.3 445.4,477.2 446.3,478.1C447.2,478.9 447.9,480.0 449.0,480.8C450.0,481.5 451.1,482.2 452.6,482.5C454.1,482.9 456.2,483.0 458.0,483.0C459.8,483.0 461.6,482.6 463.4,482.5C465.2,482.5 467.0,482.4 468.8,482.5C470.5,482.7 472.8,482.8 474.1,483.4C475.5,484.0 476.3,485.1 476.8,486.1C477.4,487.2 477.4,488.7 477.3,489.7C477.1,490.8 476.9,491.8 475.9,492.4C475.0,493.0 473.2,493.3 471.4,493.3C469.6,493.4 467.4,493.0 465.2,492.9C462.9,492.7 460.1,492.6 458.0,492.4C455.9,492.3 454.4,492.1 452.6,492.0C450.8,491.8 449.3,491.6 447.2,491.5C445.1,491.5 441.2,491.5 440.0,491.5L440.0,475.4Z"/>
<path fill="#ff6600" d="M470.1,472.2C471.1,472.0 475.7,471.8 476.8,471.9C478.0,472.1 477.9,472.9 476.8,473.1C475.8,473.4 471.7,473.5 470.5,473.4C469.4,473.2 469.1,472.5 470.1,472.2Z"/>
<path fill="#ff0a00" d="M440.0,483.4C440.4,483.4 441.6,482.8 442.7,483.0C443.7,483.2 445.1,484.2 446.3,484.8C447.5,485.4 449.1,486.1 449.9,486.6C450.6,487.1 450.9,487.5 450.8,487.9C450.6,488.4 450.2,489.1 449.0,489.3C447.8,489.5 445.1,489.4 443.6,489.3C442.1,489.2 440.6,488.9 440.0,488.8L440.0,483.4Z"/>
<path fill="#ff0a00" d="M458.0,487.5C458.3,487.1 460.1,486.7 461.6,486.6C463.1,486.5 465.2,487.0 467.0,487.0C468.8,487.0 470.8,486.5 472.3,486.6C473.8,486.7 475.4,487.0 475.9,487.5C476.5,487.9 476.4,488.9 475.5,489.3C474.6,489.7 472.3,489.8 470.5,489.7C468.8,489.7 467.0,489.0 465.2,488.8C463.4,488.7 461.0,489.1 459.8,488.8C458.6,488.6 457.7,487.9 458.0,487.5Z"/>
</g>
<g clip-path="url(#c31)">
<rect x="500" y="452" width="60" height="60" fill="#e0f20a"/>
<path fill="#80d60d" d="M500.0,452.0L560.0,452.0L560.0,458.7C559.0,458.8 556.1,459.0 553.9,459.2C551.7,459.3 548.8,459.7 546.7,459.6C544.6,459.6 543.1,459.2 541.3,458.7C539.5,458.3 537.7,457.3 535.9,456.9C534.1,456.6 531.9,456.1 530.5,456.5C529.2,456.9 528.5,458.0 527.9,459.2C527.2,460.4 527.1,462.3 526.5,463.7C525.9,465.0 525.2,466.2 524.3,467.3C523.4,468.3 521.8,468.9 521.1,470.0C520.4,471.0 520.1,472.2 520.2,473.6C520.3,474.9 521.4,476.9 521.6,478.1C521.7,479.3 521.7,480.1 521.1,480.8C520.5,481.4 519.7,481.9 518.0,482.1C516.2,482.3 512.9,482.3 510.8,482.1C508.7,481.9 506.9,481.4 505.4,480.8C503.9,480.2 502.7,479.1 501.8,478.5C500.9,477.9 500.3,477.4 500.0,477.2L500.0,452.0Z"/>
<path fill="#2db814" d="M500.0,452.0L506.7,452.0C506.2,452.5 504.7,454.2 503.6,455.1C502.5,456.0 500.6,457.0 500.0,457.4L500.0,452.0Z"/>
<path fill="#ffc800" d="M500.0,488.4C500.6,488.2 502.4,487.6 503.6,487.5C504.8,487.4 506.1,487.6 507.2,487.9C508.2,488.3 508.4,489.1 509.9,489.7C511.4,490.3 513.9,491.2 516.2,491.5C518.4,491.9 521.0,492.0 523.4,492.0C525.8,492.0 528.5,491.6 530.5,491.5C532.6,491.5 534.6,492.4 535.9,491.5C537.3,490.6 537.6,487.6 538.6,486.1C539.7,484.6 540.9,483.7 542.2,482.5C543.6,481.4 545.4,480.2 546.7,479.0C548.1,477.8 549.1,476.7 550.3,475.4C551.5,474.0 552.7,472.1 553.9,470.9C555.1,469.7 556.5,468.7 557.5,468.2C558.5,467.6 559.6,467.8 560.0,467.7L560.0,498.7C559.0,498.8 556.4,499.0 553.9,499.2C551.4,499.3 547.5,499.1 544.9,499.6C542.4,500.1 539.8,500.2 538.6,502.3C537.5,504.4 538.3,510.4 538.2,512.0L518.0,512.0C517.8,510.4 518.3,504.1 517.1,502.3C515.9,500.5 512.7,501.7 510.8,501.4C508.8,501.1 507.2,501.0 505.4,500.5C503.6,500.1 500.9,499.0 500.0,498.7L500.0,488.4Z"/>
<path fill="#ff6600" d="M500.0,494.7C500.9,494.5 503.6,493.5 505.4,493.3C507.2,493.2 508.7,493.6 510.8,493.8C512.9,493.9 515.3,494.3 518.0,494.2C520.7,494.2 524.0,493.6 527.0,493.3C529.9,493.1 534.1,493.8 535.9,492.9C537.7,492.0 537.0,489.2 537.7,487.9C538.5,486.7 539.2,486.3 540.4,485.2C541.6,484.2 543.4,482.8 544.9,481.6C546.4,480.5 547.9,479.6 549.4,478.1C550.9,476.6 552.6,474.1 553.9,472.7C555.3,471.2 556.5,470.1 557.5,469.5C558.5,468.9 559.6,469.1 560.0,469.1L560.0,496.9C559.0,496.9 556.4,496.9 553.9,496.9C551.4,496.9 547.6,496.8 544.9,496.9C542.2,497.1 540.7,497.5 537.7,497.8C534.7,498.1 530.2,498.6 527.0,498.7C523.7,498.9 521.0,499.0 518.0,498.7C515.0,498.4 512.0,497.2 509.0,496.9C506.0,496.6 501.5,496.9 500.0,496.9L500.0,494.7Z"/>
<path fill="#ff0a00" d="M517.1,496.0C517.8,495.7 520.4,495.2 522.5,494.9C524.6,494.7 527.4,494.6 529.6,494.7C531.9,494.7 534.6,494.8 535.9,495.1C537.3,495.4 538.8,496.2 537.7,496.5C536.7,496.8 532.2,496.8 529.6,496.9C527.1,497.1 524.4,497.4 522.5,497.4C520.5,497.4 518.9,497.1 518.0,496.9C517.1,496.7 516.3,496.4 517.1,496.0Z"/>
<path fill="#ff0a00" d="M560.0,470.9L560.0,484.3C559.0,484.5 555.2,484.6 553.9,485.2C552.6,485.8 552.7,487.0 552.1,487.9C551.5,488.8 551.2,490.0 550.3,490.6C549.4,491.2 548.1,491.5 546.7,491.5C545.4,491.5 543.4,491.2 542.2,490.6C541.0,490.0 539.4,488.7 539.5,487.9C539.7,487.2 541.8,487.0 543.1,486.1C544.5,485.2 546.3,483.9 547.6,482.5C549.0,481.2 550.2,479.4 551.2,478.1C552.3,476.7 553.0,475.6 553.9,474.5C554.8,473.3 555.6,471.9 556.6,471.3C557.6,470.7 559.4,470.9 560.0,470.9Z"/>
</g>
<g clip-path="url(#c32)">
<rect x="560" y="452" width="60" height="60" fill="#e0f20a"/>
<path fill="#80d60d" d="M560.0,452.0L570.8,452.0C570.3,452.4 569.3,453.6 568.1,454.2C566.9,454.8 564.9,455.3 563.6,455.6C562.2,455.9 560.6,456.0 560.0,456.0L560.0,452.0Z"/>
<path fill="#ffc800" d="M560.0,465.0C561.5,465.0 566.0,464.7 569.0,464.6C572.0,464.4 575.3,464.4 578.0,464.1C580.7,463.9 583.2,463.2 585.2,463.2C587.1,463.3 588.2,464.5 589.6,464.6C591.1,464.7 592.8,464.3 594.1,463.7C595.5,463.1 596.4,462.0 597.7,461.0C599.1,459.9 600.7,458.3 602.2,457.4C603.7,456.5 604.8,455.8 606.7,455.6C608.7,455.4 611.7,456.0 613.9,456.0C616.1,456.0 619.0,455.7 620.0,455.6L620.0,512.0L607.2,512.0C607.1,510.7 607.7,505.7 606.7,504.1C605.7,502.5 603.1,502.9 601.3,502.3C599.5,501.7 597.7,501.1 595.9,500.5C594.1,499.9 592.3,499.3 590.5,498.7C588.8,498.1 587.0,497.1 585.2,496.9C583.4,496.8 581.7,497.5 579.8,497.8C577.8,498.1 575.9,498.4 573.5,498.7C571.1,499.0 567.6,499.6 565.4,499.6C563.1,499.6 560.9,498.9 560.0,498.7L560.0,465.0Z"/>
<path fill="#ff6600" d="M560.0,468.6C561.5,468.5 566.0,468.3 569.0,468.2C572.0,468.1 575.4,467.8 578.0,468.0C580.5,468.2 582.8,468.6 584.3,469.5C585.8,470.4 586.2,472.0 587.0,473.6C587.7,475.1 588.9,477.4 588.8,479.0C588.6,480.5 587.3,481.8 586.1,483.0C584.9,484.2 582.6,485.0 581.6,486.1C580.5,487.3 580.1,488.2 579.8,489.7C579.4,491.2 580.4,493.9 579.3,495.1C578.3,496.3 575.8,496.7 573.5,496.9C571.2,497.1 567.6,496.5 565.4,496.5C563.1,496.4 560.9,496.5 560.0,496.5L560.0,468.6Z"/>
<path fill="#ff6600" d="M593.2,471.3C593.9,470.2 595.9,470.0 596.8,470.4C597.7,470.8 598.3,472.1 598.6,473.6C598.9,475.0 598.9,477.5 598.6,479.0C598.4,480.5 598.0,482.1 597.3,482.5C596.5,483.0 594.9,482.5 594.1,481.6C593.4,480.8 592.9,478.9 592.8,477.2C592.6,475.4 592.6,472.4 593.2,471.3Z"/>
<path fill="#ff6600" d="M620.0,459.2L620.0,498.7C619.3,499.0 617.3,500.5 615.7,500.5C614.1,500.5 611.8,499.6 610.3,498.7C608.8,497.8 607.8,496.6 606.7,495.1C605.7,493.6 604.8,491.8 604.0,489.7C603.3,487.6 602.7,485.2 602.2,482.5C601.8,479.9 601.5,476.7 601.3,473.6C601.2,470.4 600.7,466.1 601.3,463.7C601.9,461.3 603.4,460.2 604.9,459.2C606.4,458.1 608.5,457.5 610.3,457.4C612.1,457.2 614.1,458.0 615.7,458.3C617.3,458.6 619.3,459.0 620.0,459.2Z"/>
<path fill="#ff6600" d="M593.2,494.2C593.5,493.3 596.2,492.6 597.7,492.4C599.2,492.3 601.0,492.6 602.2,493.3C603.4,494.1 604.9,496.0 604.9,496.9C604.9,497.8 603.7,498.6 602.2,498.7C600.7,498.9 597.4,498.6 595.9,497.8C594.4,497.1 592.9,495.1 593.2,494.2Z"/>
<path fill="#ff0a00" d="M560.0,474.9C560.7,474.8 562.7,474.8 564.5,474.5C566.3,474.2 568.5,473.6 570.8,473.1C573.0,472.6 576.2,471.5 578.0,471.3C579.8,471.1 580.9,470.9 581.6,471.8C582.2,472.6 582.3,474.9 582.0,476.3C581.7,477.6 580.6,478.7 579.8,479.9C578.9,481.1 578.1,482.5 577.1,483.4C576.0,484.4 574.8,485.7 573.5,485.7C572.1,485.7 570.5,483.9 569.0,483.4C567.5,483.0 566.0,483.1 564.5,483.0C563.0,482.8 560.7,482.6 560.0,482.5L560.0,474.9Z"/>
<path fill="#ff0a00" d="M604.9,468.2C605.4,466.1 605.8,463.3 606.7,461.9C607.6,460.5 609.3,459.8 610.3,459.6C611.4,459.5 612.4,460.0 613.0,461.0C613.6,462.0 613.9,464.0 613.9,465.5C613.9,467.0 613.3,468.5 613.0,470.0C612.7,471.5 612.6,473.0 612.1,474.5C611.7,476.0 610.6,477.5 610.3,479.0C610.0,480.5 610.0,482.2 610.3,483.4C610.6,484.6 611.5,485.1 612.1,486.1C612.7,487.2 613.3,488.5 613.9,489.7C614.5,490.9 615.7,491.8 615.7,493.3C615.7,494.8 614.8,498.0 613.9,498.7C613.0,499.5 611.4,498.7 610.3,497.8C609.3,496.9 608.4,495.0 607.6,493.3C606.8,491.7 606.0,489.9 605.4,487.9C604.8,486.0 604.2,483.9 604.0,481.6C603.8,479.4 603.9,476.7 604.0,474.5C604.2,472.2 604.5,470.3 604.9,468.2Z"/>
</g>
<g clip-path="url(#c33)">
<rect x="614" y="452" width="47" height="60" fill="#e0f20a"/>
<path fill="#80d60d" d="M631.1,452.0L655.3,452.0C654.9,452.6 653.4,454.5 652.6,455.6C651.9,456.7 651.6,458.3 650.8,458.7C650.1,459.2 649.0,459.0 648.1,458.3C647.2,457.5 646.3,454.6 645.4,454.2C644.5,453.9 643.5,455.4 642.8,456.0C642.0,456.6 642.2,457.5 641.0,457.8C639.8,458.1 636.9,458.2 635.6,457.8C634.2,457.5 633.6,456.6 632.9,455.6C632.1,454.6 631.4,452.6 631.1,452.0Z"/>
<path fill="#ffc800" d="M614.0,456.5C614.4,456.3 615.5,454.8 616.2,455.1C617.0,455.4 617.7,456.9 618.5,458.3C619.3,459.7 620.3,462.0 621.2,463.7C622.1,465.3 623.1,466.2 623.9,468.2C624.6,470.1 624.8,473.6 625.7,475.4C626.6,477.2 628.1,478.2 629.3,479.0C630.5,479.7 632.0,480.6 632.9,479.9C633.8,479.1 633.9,475.9 634.7,474.5C635.4,473.0 636.5,471.7 637.4,471.3C638.3,470.9 639.2,471.4 640.1,472.2C641.0,473.0 641.7,475.0 642.8,476.3C643.8,477.5 645.1,478.7 646.3,479.9C647.5,481.1 648.7,482.2 649.9,483.4C651.1,484.6 652.3,485.8 653.5,487.0C654.7,488.2 656.0,489.9 657.1,490.6C658.2,491.4 657.5,491.4 660.3,491.5C663.1,491.7 671.7,491.5 674.0,491.5L674.0,512.0L614.0,512.0L614.0,456.5Z"/>
<path fill="#ff6600" d="M614.0,464.6C614.3,465.5 615.3,468.5 615.8,470.0C616.3,471.5 616.5,472.4 617.1,473.6C617.7,474.8 618.7,477.0 619.4,477.2C620.1,477.3 620.6,474.5 621.2,474.5C621.8,474.5 622.2,476.0 623.0,477.2C623.7,478.4 624.8,480.3 625.7,481.6C626.6,483.0 627.3,484.2 628.4,485.2C629.4,486.3 630.9,488.5 632.0,487.9C633.0,487.3 633.9,483.6 634.7,481.6C635.4,479.7 635.8,477.3 636.5,476.3C637.1,475.2 638.0,475.1 638.7,475.4C639.5,475.7 640.3,476.7 641.0,478.1C641.6,479.4 642.3,481.4 642.8,483.4C643.2,485.5 643.4,488.2 643.6,490.6C643.9,493.0 643.8,496.5 644.5,497.8C645.3,499.2 646.8,498.7 648.1,498.7C649.5,498.7 651.1,497.7 652.6,497.8C654.1,498.0 655.9,499.2 657.1,499.6C658.4,500.1 657.5,500.4 660.3,500.5C663.1,500.7 671.7,500.5 674.0,500.5L674.0,512.0L638.3,512.0C638.2,510.4 638.9,504.1 637.8,502.3C636.8,500.5 633.9,501.3 632.0,501.4C630.0,501.6 627.2,501.4 626.1,503.2C625.1,505.0 625.8,510.6 625.7,512.0L620.3,512.0C620.2,510.6 620.9,504.7 619.8,503.2C618.8,501.7 615.0,503.2 614.0,503.2L614.0,464.6Z"/>
<path fill="#ff0a00" d="M614.0,493.3C614.6,493.0 616.5,492.3 617.6,491.5C618.6,490.8 619.4,489.9 620.3,488.8C621.2,487.8 622.1,485.2 623.0,485.2C623.9,485.2 624.8,487.6 625.7,488.8C626.6,490.0 627.3,491.5 628.4,492.4C629.4,493.3 630.9,493.6 632.0,494.2C633.0,494.8 634.7,495.4 634.7,496.0C634.7,496.6 633.2,497.4 632.0,497.8C630.8,498.3 629.0,498.6 627.5,498.7C626.0,498.8 624.5,498.4 623.0,498.3C621.5,498.1 620.0,497.9 618.5,497.8C617.0,497.7 614.7,497.8 614.0,497.8L614.0,493.3Z"/>
<path fill="#ff0a00" d="M636.9,480.8C637.4,479.4 639.1,478.7 639.6,479.9C640.1,481.1 640.1,485.4 640.1,487.9C640.1,490.5 639.9,493.5 639.6,495.1C639.3,496.8 638.7,497.8 638.3,497.8C637.8,497.8 637.2,496.8 636.9,495.1C636.6,493.5 636.5,490.3 636.5,487.9C636.5,485.5 636.4,482.1 636.9,480.8Z"/>
</g>
</g>
<g id="lines" fill="none" stroke="#000" stroke-width="1.1">
<polyline points="80.7,472.8 140.0,472.8"/>
<polyline points="80.7,465.5 90.8,465.5 91.5,471.3 91.7,479.0 88.5,483.4 80.7,483.6"/>
<polyline points="93.5,480.3 95.3,478.5 98.9,479.0 103.4,477.6 107.0,476.3 115.9,476.7 140.0,476.3"/>
<polyline points="93.5,480.3 102.5,482.1 109.6,483.4 115.9,483.9 124.9,483.9 140.0,483.9"/>
<polyline points="80.7,487.9 87.2,487.9 89.0,487.0 115.9,487.5 120.4,488.8 122.2,491.5 124.9,495.1 133.9,495.6 136.6,494.2 140.0,495.6"/>
<polyline points="140.0,473.1 179.5,473.1 181.3,477.2 183.1,480.3 186.7,480.3 188.5,477.2 189.4,473.1 200.0,473.1"/>
<polyline points="140.0,476.3 173.2,476.3 176.8,479.9 174.1,483.4 149.0,483.4 147.2,484.8 146.3,483.9 140.0,483.9"/>
<polyline points="200.0,476.7 194.8,476.7 192.1,479.9 193.9,483.0 197.5,484.8 200.0,484.8"/>
<polyline points="140.0,495.6 160.7,495.1 162.5,493.3 164.3,488.8 175.0,488.8 176.8,494.2 177.7,495.6 186.7,495.6 190.3,493.3 192.1,491.5 193.9,494.2 194.8,495.6 200.0,495.6"/>
<polyline points="200.0,473.1 218.0,473.1 221.6,473.6 222.5,476.3 224.3,480.3 260.0,480.3"/>
<polyline points="200.0,476.7 209.0,476.3 211.7,479.0 212.6,481.6 208.1,486.1 200.0,484.8"/>
<polyline points="212.6,481.6 213.9,486.6 214.8,487.9"/>
<polyline points="200.0,495.6 210.3,495.6"/>
<polyline points="245.8,494.9 260.0,494.9"/>
<polyline points="245.8,486.4 260.0,485.1"/>
<polyline points="245.8,490.6 260.0,491.5"/>
<polyline points="292.5,473.4 320.0,472.7"/>
<polyline points="292.5,479.2 320.0,478.1"/>
<polyline points="260.0,480.3 269.0,480.3 269.9,483.0 273.5,485.7 280.7,485.7 285.2,483.4 295.9,483.4 303.1,483.0 304.9,483.4 310.3,483.0 320.0,483.0"/>
<polyline points="260.0,491.5 263.6,490.6 266.7,487.9 264.5,485.2 260.0,484.8"/>
<polyline points="260.0,494.9 286.1,494.9 287.4,492.4 288.8,488.4 291.4,488.4 293.2,491.5 295.5,492.9 296.8,490.6 297.7,488.4 299.5,487.9 320.0,487.5"/>
<polyline points="320.0,472.7 340.7,472.7 341.6,473.6 346.1,471.8 347.0,468.2 348.8,464.1 360.4,464.1 361.8,468.2 362.7,472.2 380.0,472.7"/>
<polyline points="351.4,471.8 353.2,469.1 356.8,468.2 359.5,470.0 360.0,473.6 358.6,477.6 355.5,478.5 352.8,475.8 351.4,471.8"/>
<polyline points="320.0,478.1 334.4,478.1 337.1,479.9 335.3,482.1 320.0,483.0"/>
<polyline points="320.0,487.5 380.0,487.2"/>
<polyline points="373.0,480.3 375.7,479.4 379.3,480.3 378.4,481.6 374.8,481.5 373.0,480.3"/>
<polyline points="389.9,472.7 390.8,477.2 393.5,480.8 398.0,482.1 407.0,480.8 411.4,481.2 415.5,483.4 418.6,480.8 420.0,477.2 420.4,472.7 419.5,469.1 417.7,466.8 420.0,464.6 414.6,464.6"/>
<polyline points="422.2,471.8 423.1,468.2 424.9,465.9 428.5,465.5 430.3,467.3 431.4,472.7 431.7,479.0 430.8,483.4 427.6,485.7 424.9,486.6 423.1,487.0 380.0,487.2"/>
<polyline points="380.0,479.9 383.6,479.9"/>
<polyline points="414.6,467.7 420.0,467.7 422.2,471.8"/>
<polyline points="458.9,466.4 461.1,466.2 463.4,469.1 464.4,473.6 464.3,479.0 462.9,483.4 461.1,484.3 459.3,481.6 458.4,477.2 458.2,471.8 458.9,466.4"/>
<polyline points="464.3,480.8 469.6,480.6 471.0,484.3 471.6,489.7 470.5,494.2 468.8,495.8 467.0,494.2 465.6,490.6 464.4,486.1 464.3,480.8"/>
<polyline points="511.2,481.6 513.5,481.2 515.3,484.3 516.6,487.9 515.7,490.6 514.4,493.8 511.7,493.8 510.6,490.6 509.4,488.4 510.3,485.2 511.2,481.6"/>
<polyline points="560.0,464.1 553.9,464.6 553.0,468.2 551.2,472.7 546.7,473.6 544.9,477.6 544.0,480.3 537.7,481.2 536.4,483.4 535.5,487.0 536.4,491.5 537.7,494.2 539.5,495.3 548.5,495.1 549.9,492.4 550.8,489.3 552.1,487.5 560.0,487.5"/>
<polyline points="549.0,480.3 551.7,477.2 553.0,479.0 552.1,482.1 549.0,480.3"/>
<polyline points="560.0,468.6 556.6,469.5 554.8,472.7 553.9,475.4 554.8,478.1 560.0,478.5"/>
<polyline points="560.0,464.6 583.4,464.6 585.2,468.2 586.5,472.7 586.1,479.0 585.2,483.4 584.3,487.5 578.9,487.5 577.1,491.5 574.8,494.2 573.5,491.5 572.1,487.5 560.0,487.5"/>
<polyline points="560.0,468.6 579.8,468.6 582.0,470.0 582.0,476.3 578.0,478.5 560.0,478.5"/>
<polyline points="593.2,466.4 596.8,465.3 599.1,467.7 600.0,472.7 599.5,479.0 597.7,483.4 595.5,485.1 593.2,482.5 591.9,477.2 591.6,470.9 593.2,466.4"/>
<polyline points="613.9,465.5 615.7,461.9 613.9,456.3 604.0,456.5 602.2,462.8 601.8,474.5 603.1,482.5 604.9,487.0 608.5,491.5 611.2,494.2 613.0,500.5 613.9,502.3"/>
<polyline points="607.6,463.7 609.4,460.5 611.7,460.1 612.6,464.6 612.1,470.0 610.8,474.0 609.0,472.7 607.8,468.2 607.6,463.7"/>
<polyline points="614.0,458.3 615.8,463.7 617.1,471.8 618.5,465.5 623.0,465.5 624.8,470.0 625.7,475.4 623.9,479.0 625.7,481.2 630.6,480.8 632.0,484.3 633.3,488.8 631.1,494.2 628.8,500.5 626.6,503.7 624.8,500.5 623.0,494.2 621.2,487.0 614.0,487.0"/>
<polyline points="614.0,487.5 617.1,487.5 618.0,494.2 616.7,500.5 614.0,503.2"/>
<polyline points="660.3,491.5 658.5,492.4 657.6,496.0 658.5,499.6 660.3,500.5"/>
</g>
<rect x="210.8" y="487.1" width="34.5" height="18.8" fill="none" stroke="#000" stroke-width="1"/>
<text x="229.1" y="502.5" font-size="16.6" text-anchor="middle" style="stroke-width:0.6px">.001</text>
<rect x="258.0" y="462.8" width="34.0" height="19.2" fill="none" stroke="#000" stroke-width="1"/>
<text x="276.0" y="478.9" font-size="16.6" text-anchor="middle" style="stroke-width:0.6px">.001</text>
<rect x="379.8" y="455.4" width="34.3" height="18.6" fill="none" stroke="#000" stroke-width="1"/>
<text x="398.0" y="471.0" font-size="16.6" text-anchor="middle" style="stroke-width:0.6px">.001</text>
<rect x="213" y="97" width="447.5" height="23.3" fill="#fff" stroke="#000" stroke-width="1"/>
<text x="216.8" y="112.5" font-size="17" textLength="439.4" lengthAdjust="spacing">Cloud + Ice water mixing ratio Contours: .001 to .1 by .099</text>
<g id="ticks" stroke="#000" stroke-width="1.8">
<line x1="80" y1="472.6" x2="98" y2="472.6"/>
<line x1="80" y1="434.2" x2="98" y2="434.2"/>
<line x1="80" y1="395.8" x2="98" y2="395.8"/>
<line x1="80" y1="357.4" x2="98" y2="357.4"/>
<line x1="80" y1="319.0" x2="98" y2="319.0"/>
<line x1="80" y1="280.6" x2="98" y2="280.6"/>
<line x1="80" y1="242.2" x2="98" y2="242.2"/>
<line x1="80" y1="203.8" x2="98" y2="203.8"/>
<line x1="80" y1="165.4" x2="98" y2="165.4"/>
<line x1="80" y1="127.0" x2="98" y2="127.0"/>
<line x1="153.1" y1="511" x2="153.1" y2="494"/>
<line x1="225.6" y1="511" x2="225.6" y2="494"/>
<line x1="298.2" y1="511" x2="298.2" y2="494"/>
<line x1="370.7" y1="511" x2="370.7" y2="494"/>
<line x1="443.3" y1="511" x2="443.3" y2="494"/>
<line x1="515.9" y1="511" x2="515.9" y2="494"/>
<line x1="588.4" y1="511" x2="588.4" y2="494"/>
</g>
<rect x="80" y="96" width="581.2" height="415.6" fill="none" stroke="#000" stroke-width="2"/>
<g font-size="16.6" text-anchor="end">
<text x="68.6" y="516.6">0.0</text>
<text x="68.6" y="478.2">1.0</text>
<text x="68.6" y="439.8">2.0</text>
<text x="68.6" y="401.4">3.0</text>
<text x="68.6" y="363.0">4.0</text>
<text x="68.6" y="324.6">5.0</text>
<text x="68.6" y="286.2">6.0</text>
<text x="68.6" y="247.8">7.0</text>
<text x="68.6" y="209.4">8.0</text>
<text x="68.6" y="171.0">9.0</text>
<text x="68.6" y="132.6">10.0</text>
</g>
<g font-size="16.5" text-anchor="middle">
<text x="80.7" y="535.9">-20.1</text>
<text x="153.3" y="535.9">-17.0</text>
<text x="225.8" y="535.9">-13.9</text>
<text x="298.4" y="535.9">-10.8</text>
<text x="370.9" y="535.9">-7.7</text>
<text x="443.5" y="535.9">-4.5</text>
<text x="516.1" y="535.9">-1.4</text>
<text x="588.6" y="535.9">1.7</text>
<text x="661.2" y="535.9">4.8</text>
</g>
<text transform="translate(18.6,304.2) rotate(-90)" font-size="23" text-anchor="middle" style="stroke-width:0.55px">Height (km)</text>
<text x="370.4" y="569" font-size="22.8" text-anchor="middle" style="stroke-width:0.55px">latitude</text>
<text x="285.6" y="612.3" font-size="17">Relative Humidity</text><text x="429.6" y="612.3" font-size="17">(%)</text>
<g stroke="#000" stroke-width="1">
<rect x="171.75" y="618.5" width="33.15" height="21" fill="#ffffff"/>
<rect x="204.90" y="618.5" width="33.15" height="21" fill="#a0a0ff"/>
<rect x="238.05" y="618.5" width="33.15" height="21" fill="#4545ff"/>
<rect x="271.20" y="618.5" width="33.15" height="21" fill="#0000f0"/>
<rect x="304.35" y="618.5" width="33.15" height="21" fill="#004d99"/>
<rect x="337.50" y="618.5" width="33.15" height="21" fill="#008c40"/>
<rect x="370.65" y="618.5" width="33.15" height="21" fill="#2db814"/>
<rect x="403.80" y="618.5" width="33.15" height="21" fill="#80d60d"/>
<rect x="436.95" y="618.5" width="33.15" height="21" fill="#e0f20a"/>
<rect x="470.10" y="618.5" width="33.15" height="21" fill="#ffc800"/>
<rect x="503.25" y="618.5" width="33.15" height="21" fill="#ff6600"/>
<rect x="536.40" y="618.5" width="33.15" height="21" fill="#ff0a00"/>
</g>
<g font-size="16" text-anchor="middle">
<text x="204.9" y="666.7">10</text>
<text x="238.1" y="666.7">20</text>
<text x="271.2" y="666.7">30</text>
<text x="304.4" y="666.7">40</text>
<text x="337.5" y="666.7">50</text>
<text x="370.6" y="666.7">60</text>
<text x="403.8" y="666.7">70</text>
<text x="436.9" y="666.7">80</text>
<text x="470.1" y="666.7">90</text>
<text x="503.2" y="666.7">95</text>
<text x="536.4" y="666.7">98</text>
</g>
</svg>
</body></html>
